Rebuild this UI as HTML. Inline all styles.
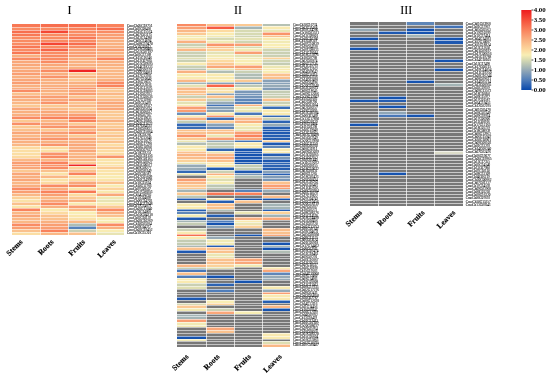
<!DOCTYPE html><html><head><meta charset="utf-8"><style>html,body{margin:0;padding:0;background:#fff;width:550px;height:377px;overflow:hidden}svg{display:block;will-change:transform}text{font-family:"Liberation Serif",serif}</style></head><body>
<svg width="550" height="377" viewBox="0 0 550 377" shape-rendering="crispEdges">
<rect width="550" height="377" fill="#fff"/>
<g><rect x="12" y="24" width="28" height="3" fill="#f87855"/><rect x="40" y="24" width="28" height="3" fill="#f76e4e"/><rect x="68" y="24" width="28" height="3" fill="#f76e4e"/><rect x="96" y="24" width="28" height="3" fill="#f9825c"/><rect x="12" y="27" width="28" height="3" fill="#f98b63"/><rect x="40" y="27" width="28" height="3" fill="#f98b63"/><rect x="68" y="27" width="28" height="3" fill="#f9825c"/><rect x="96" y="27" width="28" height="3" fill="#f76e4e"/><rect x="12" y="30" width="28" height="3" fill="#f76e4e"/><rect x="40" y="30" width="28" height="3" fill="#f44634"/><rect x="68" y="30" width="28" height="3" fill="#f98b63"/><rect x="96" y="30" width="28" height="3" fill="#f98b63"/><rect x="12" y="33" width="28" height="3" fill="#f87855"/><rect x="40" y="33" width="28" height="3" fill="#f98b63"/><rect x="68" y="33" width="28" height="3" fill="#f98b63"/><rect x="96" y="33" width="28" height="3" fill="#f99e72"/><rect x="12" y="36" width="28" height="3" fill="#f98b63"/><rect x="40" y="36" width="28" height="3" fill="#f98b63"/><rect x="68" y="36" width="28" height="3" fill="#f87855"/><rect x="96" y="36" width="28" height="3" fill="#f99e72"/><rect x="12" y="39" width="28" height="3" fill="#f98b63"/><rect x="40" y="39" width="28" height="3" fill="#f98b63"/><rect x="68" y="39" width="28" height="3" fill="#f98b63"/><rect x="96" y="39" width="28" height="3" fill="#f9b080"/><rect x="12" y="42" width="28" height="3" fill="#f98b63"/><rect x="40" y="42" width="28" height="3" fill="#f44634"/><rect x="68" y="42" width="28" height="3" fill="#f76e4e"/><rect x="96" y="42" width="28" height="3" fill="#f9b080"/><rect x="12" y="45" width="28" height="3" fill="#f87855"/><rect x="40" y="45" width="28" height="3" fill="#f98b63"/><rect x="68" y="45" width="28" height="3" fill="#f98b63"/><rect x="96" y="45" width="28" height="3" fill="#f9b080"/><rect x="12" y="48" width="28" height="3" fill="#f98b63"/><rect x="40" y="48" width="28" height="3" fill="#f76448"/><rect x="68" y="48" width="28" height="3" fill="#f99e72"/><rect x="96" y="48" width="28" height="3" fill="#f99e72"/><rect x="12" y="51" width="28" height="3" fill="#f87855"/><rect x="40" y="51" width="28" height="3" fill="#f98b63"/><rect x="68" y="51" width="28" height="3" fill="#f99e72"/><rect x="96" y="51" width="28" height="3" fill="#f9b080"/><rect x="12" y="54" width="28" height="3" fill="#f9b080"/><rect x="40" y="54" width="28" height="3" fill="#f98b63"/><rect x="68" y="54" width="28" height="3" fill="#f99e72"/><rect x="96" y="54" width="28" height="3" fill="#f9b080"/><rect x="12" y="57" width="28" height="3" fill="#f98b63"/><rect x="40" y="57" width="28" height="3" fill="#f98b63"/><rect x="68" y="57" width="28" height="3" fill="#f9b080"/><rect x="96" y="57" width="28" height="3" fill="#f9825c"/><rect x="12" y="60" width="28" height="3" fill="#f9a779"/><rect x="40" y="60" width="28" height="3" fill="#f98b63"/><rect x="68" y="60" width="28" height="3" fill="#f9b080"/><rect x="96" y="60" width="28" height="3" fill="#f9b080"/><rect x="12" y="63" width="28" height="3" fill="#f9a779"/><rect x="40" y="63" width="28" height="3" fill="#f9a779"/><rect x="68" y="63" width="28" height="3" fill="#f9b080"/><rect x="96" y="63" width="28" height="3" fill="#f9b080"/><rect x="12" y="66" width="28" height="3" fill="#f9b080"/><rect x="40" y="66" width="28" height="3" fill="#f9b080"/><rect x="68" y="66" width="28" height="3" fill="#f9b080"/><rect x="96" y="66" width="28" height="3" fill="#fab886"/><rect x="12" y="69" width="28" height="3" fill="#f9a779"/><rect x="40" y="69" width="28" height="3" fill="#f98b63"/><rect x="68" y="69" width="28" height="3" fill="#ef2624"/><rect x="96" y="69" width="28" height="3" fill="#fab886"/><rect x="12" y="72" width="28" height="3" fill="#f99e72"/><rect x="40" y="72" width="28" height="3" fill="#f9b080"/><rect x="68" y="72" width="28" height="3" fill="#fbc993"/><rect x="96" y="72" width="28" height="3" fill="#fab886"/><rect x="12" y="75" width="28" height="3" fill="#f9b080"/><rect x="40" y="75" width="28" height="3" fill="#f9946a"/><rect x="68" y="75" width="28" height="3" fill="#fab886"/><rect x="96" y="75" width="28" height="3" fill="#fab886"/><rect x="12" y="78" width="28" height="3" fill="#f9a779"/><rect x="40" y="78" width="28" height="3" fill="#f9b080"/><rect x="68" y="78" width="28" height="3" fill="#fbc993"/><rect x="96" y="78" width="28" height="3" fill="#f9b080"/><rect x="12" y="81" width="28" height="3" fill="#f99e72"/><rect x="40" y="81" width="28" height="3" fill="#f9b080"/><rect x="68" y="81" width="28" height="3" fill="#f9b080"/><rect x="96" y="81" width="28" height="3" fill="#f98b63"/><rect x="12" y="84" width="28" height="3" fill="#f9b080"/><rect x="40" y="84" width="28" height="3" fill="#f9b080"/><rect x="68" y="84" width="28" height="3" fill="#f9b080"/><rect x="96" y="84" width="28" height="3" fill="#f9825c"/><rect x="12" y="87" width="28" height="2" fill="#f9b080"/><rect x="40" y="87" width="28" height="2" fill="#f9a779"/><rect x="68" y="87" width="28" height="2" fill="#f9946a"/><rect x="96" y="87" width="28" height="2" fill="#fab886"/><rect x="12" y="89" width="28" height="3" fill="#f98b63"/><rect x="40" y="89" width="28" height="3" fill="#f9b080"/><rect x="68" y="89" width="28" height="3" fill="#f9a779"/><rect x="96" y="89" width="28" height="3" fill="#fbc993"/><rect x="12" y="92" width="28" height="3" fill="#fac18d"/><rect x="40" y="92" width="28" height="3" fill="#fab886"/><rect x="68" y="92" width="28" height="3" fill="#f99e72"/><rect x="96" y="92" width="28" height="3" fill="#fab886"/><rect x="12" y="95" width="28" height="3" fill="#f9a779"/><rect x="40" y="95" width="28" height="3" fill="#f99e72"/><rect x="68" y="95" width="28" height="3" fill="#fac18d"/><rect x="96" y="95" width="28" height="3" fill="#fbc993"/><rect x="12" y="98" width="28" height="3" fill="#f9b080"/><rect x="40" y="98" width="28" height="3" fill="#f9a779"/><rect x="68" y="98" width="28" height="3" fill="#f99e72"/><rect x="96" y="98" width="28" height="3" fill="#fab886"/><rect x="12" y="101" width="28" height="3" fill="#fab886"/><rect x="40" y="101" width="28" height="3" fill="#f9946a"/><rect x="68" y="101" width="28" height="3" fill="#fac18d"/><rect x="96" y="101" width="28" height="3" fill="#f9a779"/><rect x="12" y="104" width="28" height="3" fill="#fbc993"/><rect x="40" y="104" width="28" height="3" fill="#fbc993"/><rect x="68" y="104" width="28" height="3" fill="#fab886"/><rect x="96" y="104" width="28" height="3" fill="#f9b080"/><rect x="12" y="107" width="28" height="3" fill="#f9a779"/><rect x="40" y="107" width="28" height="3" fill="#fab886"/><rect x="68" y="107" width="28" height="3" fill="#fbc993"/><rect x="96" y="107" width="28" height="3" fill="#f9a779"/><rect x="12" y="110" width="28" height="3" fill="#f9b080"/><rect x="40" y="110" width="28" height="3" fill="#f9a779"/><rect x="68" y="110" width="28" height="3" fill="#fab886"/><rect x="96" y="110" width="28" height="3" fill="#fbc993"/><rect x="12" y="113" width="28" height="3" fill="#f9b080"/><rect x="40" y="113" width="28" height="3" fill="#f9a779"/><rect x="68" y="113" width="28" height="3" fill="#f99e72"/><rect x="96" y="113" width="28" height="3" fill="#fbc993"/><rect x="12" y="116" width="28" height="3" fill="#f98b63"/><rect x="40" y="116" width="28" height="3" fill="#f9825c"/><rect x="68" y="116" width="28" height="3" fill="#f9825c"/><rect x="96" y="116" width="28" height="3" fill="#fbc993"/><rect x="12" y="119" width="28" height="3" fill="#fbc993"/><rect x="40" y="119" width="28" height="3" fill="#fab886"/><rect x="68" y="119" width="28" height="3" fill="#f9825c"/><rect x="96" y="119" width="28" height="3" fill="#f9b080"/><rect x="12" y="122" width="28" height="3" fill="#f99067"/><rect x="40" y="122" width="28" height="3" fill="#f9a779"/><rect x="68" y="122" width="28" height="3" fill="#fbc993"/><rect x="96" y="122" width="28" height="3" fill="#fbc993"/><rect x="12" y="125" width="28" height="3" fill="#fbc993"/><rect x="40" y="125" width="28" height="3" fill="#f9946a"/><rect x="68" y="125" width="28" height="3" fill="#f99e72"/><rect x="96" y="125" width="28" height="3" fill="#fbc993"/><rect x="12" y="128" width="28" height="3" fill="#fac18d"/><rect x="40" y="128" width="28" height="3" fill="#fbc993"/><rect x="68" y="128" width="28" height="3" fill="#fab886"/><rect x="96" y="128" width="28" height="3" fill="#fab886"/><rect x="12" y="131" width="28" height="3" fill="#f9a779"/><rect x="40" y="131" width="28" height="3" fill="#f99e72"/><rect x="68" y="131" width="28" height="3" fill="#f98b63"/><rect x="96" y="131" width="28" height="3" fill="#fbd29a"/><rect x="12" y="134" width="28" height="3" fill="#fab886"/><rect x="40" y="134" width="28" height="3" fill="#f9b080"/><rect x="68" y="134" width="28" height="3" fill="#fbc993"/><rect x="96" y="134" width="28" height="3" fill="#fac18d"/><rect x="12" y="137" width="28" height="3" fill="#f9a779"/><rect x="40" y="137" width="28" height="3" fill="#f9946a"/><rect x="68" y="137" width="28" height="3" fill="#f9a779"/><rect x="96" y="137" width="28" height="3" fill="#fbd29a"/><rect x="12" y="140" width="28" height="3" fill="#f9b080"/><rect x="40" y="140" width="28" height="3" fill="#f9b080"/><rect x="68" y="140" width="28" height="3" fill="#f9b080"/><rect x="96" y="140" width="28" height="3" fill="#fac18d"/><rect x="12" y="143" width="28" height="3" fill="#fab886"/><rect x="40" y="143" width="28" height="3" fill="#f9946a"/><rect x="68" y="143" width="28" height="3" fill="#f9a779"/><rect x="96" y="143" width="28" height="3" fill="#fcdca2"/><rect x="12" y="146" width="28" height="3" fill="#fcdaa0"/><rect x="40" y="146" width="28" height="3" fill="#fcdaa0"/><rect x="68" y="146" width="28" height="3" fill="#f9b080"/><rect x="96" y="146" width="28" height="3" fill="#fbcb94"/><rect x="12" y="149" width="28" height="3" fill="#fbdea4"/><rect x="40" y="149" width="28" height="3" fill="#fae2a8"/><rect x="68" y="149" width="28" height="3" fill="#f9a779"/><rect x="96" y="149" width="28" height="3" fill="#fcdca2"/><rect x="12" y="152" width="28" height="3" fill="#fbdea4"/><rect x="40" y="152" width="28" height="3" fill="#f9946a"/><rect x="68" y="152" width="28" height="3" fill="#fab886"/><rect x="96" y="152" width="28" height="3" fill="#fcdca2"/><rect x="12" y="155" width="28" height="3" fill="#fcdaa0"/><rect x="40" y="155" width="28" height="3" fill="#f98b63"/><rect x="68" y="155" width="28" height="3" fill="#f9b080"/><rect x="96" y="155" width="28" height="3" fill="#f9946a"/><rect x="12" y="158" width="28" height="3" fill="#fab886"/><rect x="40" y="158" width="28" height="3" fill="#fab886"/><rect x="68" y="158" width="28" height="3" fill="#fab886"/><rect x="96" y="158" width="28" height="3" fill="#fae4aa"/><rect x="12" y="161" width="28" height="3" fill="#f99e72"/><rect x="40" y="161" width="28" height="3" fill="#f9825c"/><rect x="68" y="161" width="28" height="3" fill="#fbc993"/><rect x="96" y="161" width="28" height="3" fill="#fae4aa"/><rect x="12" y="164" width="28" height="2" fill="#f99e72"/><rect x="40" y="164" width="28" height="2" fill="#f9946a"/><rect x="68" y="164" width="28" height="2" fill="#ef2624"/><rect x="96" y="164" width="28" height="2" fill="#fae4aa"/><rect x="12" y="166" width="28" height="3" fill="#f9a779"/><rect x="40" y="166" width="28" height="3" fill="#f98b63"/><rect x="68" y="166" width="28" height="3" fill="#fbd29a"/><rect x="96" y="166" width="28" height="3" fill="#fbcb94"/><rect x="12" y="169" width="28" height="3" fill="#fbc993"/><rect x="40" y="169" width="28" height="3" fill="#fac18d"/><rect x="68" y="169" width="28" height="3" fill="#fac18d"/><rect x="96" y="169" width="28" height="3" fill="#fae4aa"/><rect x="12" y="172" width="28" height="3" fill="#f9a779"/><rect x="40" y="172" width="28" height="3" fill="#fae2a8"/><rect x="68" y="172" width="28" height="3" fill="#f9825c"/><rect x="96" y="172" width="28" height="3" fill="#fae4aa"/><rect x="12" y="175" width="28" height="3" fill="#f9b080"/><rect x="40" y="175" width="28" height="3" fill="#fab886"/><rect x="68" y="175" width="28" height="3" fill="#fcdaa0"/><rect x="96" y="175" width="28" height="3" fill="#f8ecb2"/><rect x="12" y="178" width="28" height="3" fill="#f9a779"/><rect x="40" y="178" width="28" height="3" fill="#fae2a8"/><rect x="68" y="178" width="28" height="3" fill="#fcdaa0"/><rect x="96" y="178" width="28" height="3" fill="#fae4aa"/><rect x="12" y="181" width="28" height="3" fill="#fab886"/><rect x="40" y="181" width="28" height="3" fill="#fcdaa0"/><rect x="68" y="181" width="28" height="3" fill="#f9a779"/><rect x="96" y="181" width="28" height="3" fill="#fac28e"/><rect x="12" y="184" width="28" height="3" fill="#f9b080"/><rect x="40" y="184" width="28" height="3" fill="#f98b63"/><rect x="68" y="184" width="28" height="3" fill="#f98b63"/><rect x="96" y="184" width="28" height="3" fill="#f8ecb2"/><rect x="12" y="187" width="28" height="3" fill="#f98b63"/><rect x="40" y="187" width="28" height="3" fill="#f9b080"/><rect x="68" y="187" width="28" height="3" fill="#fae2a8"/><rect x="96" y="187" width="28" height="3" fill="#fcd39b"/><rect x="12" y="190" width="28" height="3" fill="#f99e72"/><rect x="40" y="190" width="28" height="3" fill="#f9825c"/><rect x="68" y="190" width="28" height="3" fill="#f87855"/><rect x="96" y="190" width="28" height="3" fill="#f9e8ae"/><rect x="12" y="193" width="28" height="3" fill="#fab886"/><rect x="40" y="193" width="28" height="3" fill="#f99e72"/><rect x="68" y="193" width="28" height="3" fill="#fcdaa0"/><rect x="96" y="193" width="28" height="3" fill="#f9a779"/><rect x="12" y="196" width="28" height="3" fill="#fbd29a"/><rect x="40" y="196" width="28" height="3" fill="#fab886"/><rect x="68" y="196" width="28" height="3" fill="#fbc993"/><rect x="96" y="196" width="28" height="3" fill="#efe8b3"/><rect x="12" y="199" width="28" height="3" fill="#fae2a8"/><rect x="40" y="199" width="28" height="3" fill="#f9a779"/><rect x="68" y="199" width="28" height="3" fill="#f9b080"/><rect x="96" y="199" width="28" height="3" fill="#e8e4b3"/><rect x="12" y="202" width="28" height="3" fill="#fac18d"/><rect x="40" y="202" width="28" height="3" fill="#f98b63"/><rect x="68" y="202" width="28" height="3" fill="#f9eab0"/><rect x="96" y="202" width="28" height="3" fill="#f8ecb2"/><rect x="12" y="205" width="28" height="3" fill="#fae6ac"/><rect x="40" y="205" width="28" height="3" fill="#f9b080"/><rect x="68" y="205" width="28" height="3" fill="#f99e72"/><rect x="96" y="205" width="28" height="3" fill="#fbcb94"/><rect x="12" y="208" width="28" height="3" fill="#f9825c"/><rect x="40" y="208" width="28" height="3" fill="#f9eab0"/><rect x="68" y="208" width="28" height="3" fill="#fab886"/><rect x="96" y="208" width="28" height="3" fill="#f98b63"/><rect x="12" y="211" width="28" height="3" fill="#fab886"/><rect x="40" y="211" width="28" height="3" fill="#fcdaa0"/><rect x="68" y="211" width="28" height="3" fill="#f8eeb4"/><rect x="96" y="211" width="28" height="3" fill="#f9b080"/><rect x="12" y="214" width="28" height="3" fill="#f9a779"/><rect x="40" y="214" width="28" height="3" fill="#fac18d"/><rect x="68" y="214" width="28" height="3" fill="#fae6ac"/><rect x="96" y="214" width="28" height="3" fill="#fac28e"/><rect x="12" y="217" width="28" height="3" fill="#fab886"/><rect x="40" y="217" width="28" height="3" fill="#fac18d"/><rect x="68" y="217" width="28" height="3" fill="#fae2a8"/><rect x="96" y="217" width="28" height="3" fill="#f8ecb2"/><rect x="12" y="220" width="28" height="3" fill="#fab886"/><rect x="40" y="220" width="28" height="3" fill="#f9b080"/><rect x="68" y="220" width="28" height="3" fill="#fab886"/><rect x="96" y="220" width="28" height="3" fill="#f8ecb2"/><rect x="12" y="223" width="28" height="3" fill="#f98b63"/><rect x="40" y="223" width="28" height="3" fill="#f99e72"/><rect x="68" y="223" width="28" height="3" fill="#b0bdb4"/><rect x="96" y="223" width="28" height="3" fill="#f98b63"/><rect x="12" y="226" width="28" height="3" fill="#f99e72"/><rect x="40" y="226" width="28" height="3" fill="#f99e72"/><rect x="68" y="226" width="28" height="3" fill="#5782b9"/><rect x="96" y="226" width="28" height="3" fill="#f9b080"/><rect x="12" y="229" width="28" height="3" fill="#fac18d"/><rect x="40" y="229" width="28" height="3" fill="#f9825c"/><rect x="68" y="229" width="28" height="3" fill="#cad0b3"/><rect x="96" y="229" width="28" height="3" fill="#f8ecb2"/><rect x="12" y="232" width="28" height="3" fill="#fbdea4"/><rect x="40" y="232" width="28" height="3" fill="#fab886"/><rect x="68" y="232" width="28" height="3" fill="#fac18d"/><rect x="96" y="232" width="28" height="3" fill="#e8e4b3"/>
<path d="M12 27h112v1h-112zM12 30h112v1h-112zM12 33h112v1h-112zM12 36h112v1h-112zM12 39h112v1h-112zM12 42h112v1h-112zM12 45h112v1h-112zM12 48h112v1h-112zM12 51h112v1h-112zM12 54h112v1h-112zM12 57h112v1h-112zM12 60h112v1h-112zM12 63h112v1h-112zM12 66h112v1h-112zM12 69h112v1h-112zM12 72h112v1h-112zM12 75h112v1h-112zM12 78h112v1h-112zM12 81h112v1h-112zM12 84h112v1h-112zM12 87h112v1h-112zM12 89h112v1h-112zM12 92h112v1h-112zM12 95h112v1h-112zM12 98h112v1h-112zM12 101h112v1h-112zM12 104h112v1h-112zM12 107h112v1h-112zM12 110h112v1h-112zM12 113h112v1h-112zM12 116h112v1h-112zM12 119h112v1h-112zM12 122h112v1h-112zM12 125h112v1h-112zM12 128h112v1h-112zM12 131h112v1h-112zM12 134h112v1h-112zM12 137h112v1h-112zM12 140h112v1h-112zM12 143h112v1h-112zM12 146h112v1h-112zM12 149h112v1h-112zM12 152h112v1h-112zM12 155h112v1h-112zM12 158h112v1h-112zM12 161h112v1h-112zM12 164h112v1h-112zM12 166h112v1h-112zM12 169h112v1h-112zM12 172h112v1h-112zM12 175h112v1h-112zM12 178h112v1h-112zM12 181h112v1h-112zM12 184h112v1h-112zM12 187h112v1h-112zM12 190h112v1h-112zM12 193h112v1h-112zM12 196h112v1h-112zM12 199h112v1h-112zM12 202h112v1h-112zM12 205h112v1h-112zM12 208h112v1h-112zM12 211h112v1h-112zM12 214h112v1h-112zM12 217h112v1h-112zM12 220h112v1h-112zM12 223h112v1h-112zM12 226h112v1h-112zM12 229h112v1h-112zM12 232h112v1h-112z" fill="#fff" opacity="0.5"/>
<path d="M40 24v211h1v-211zM68 24v211h1v-211zM96 24v211h1v-211z" fill="#fff" opacity="0.7"/></g>
<g font-size="3.5" fill="#000" stroke="#000" stroke-width="0.06"><text x="127.00" y="26.78" textLength="25.5" lengthAdjust="spacingAndGlyphs">CmoCh05G18751</text><text x="127.00" y="29.74" textLength="24.0" lengthAdjust="spacingAndGlyphs">CmoCh03G08458</text><text x="127.00" y="32.70" textLength="25.1" lengthAdjust="spacingAndGlyphs">CmoCh15G15574</text><text x="127.00" y="35.67" textLength="24.8" lengthAdjust="spacingAndGlyphs">CmoCh07G03175</text><text x="127.00" y="38.63" textLength="25.0" lengthAdjust="spacingAndGlyphs">CmoCh13G14280</text><text x="127.00" y="41.59" textLength="24.3" lengthAdjust="spacingAndGlyphs">CmoCh01G14694</text><text x="127.00" y="44.55" textLength="25.7" lengthAdjust="spacingAndGlyphs">CmoCh08G19470</text><text x="127.00" y="47.51" textLength="23.8" lengthAdjust="spacingAndGlyphs">CmoCh11G01102</text><text x="127.00" y="50.48" textLength="25.7" lengthAdjust="spacingAndGlyphs">CmoCh18G00401</text><text x="127.00" y="53.44" textLength="25.7" lengthAdjust="spacingAndGlyphs">CmoCh13G07197</text><text x="127.00" y="56.40" textLength="24.2" lengthAdjust="spacingAndGlyphs">CmoCh01G17389</text><text x="127.00" y="59.36" textLength="24.9" lengthAdjust="spacingAndGlyphs">CmoCh15G16346</text><text x="127.00" y="62.32" textLength="25.2" lengthAdjust="spacingAndGlyphs">CmoCh12G07665</text><text x="127.00" y="65.29" textLength="25.7" lengthAdjust="spacingAndGlyphs">CmoCh15G09595</text><text x="127.00" y="68.25" textLength="25.6" lengthAdjust="spacingAndGlyphs">CmoCh14G18333</text><text x="127.00" y="71.21" textLength="25.1" lengthAdjust="spacingAndGlyphs">CmoCh04G06191</text><text x="127.00" y="74.17" textLength="25.3" lengthAdjust="spacingAndGlyphs">CmoCh10G04061</text><text x="127.00" y="77.13" textLength="24.8" lengthAdjust="spacingAndGlyphs">CmoCh17G13931</text><text x="127.00" y="80.10" textLength="24.4" lengthAdjust="spacingAndGlyphs">CmoCh07G10040</text><text x="127.00" y="83.06" textLength="24.6" lengthAdjust="spacingAndGlyphs">CmoCh16G16657</text><text x="127.00" y="86.02" textLength="24.3" lengthAdjust="spacingAndGlyphs">CmoCh02G15836</text><text x="127.00" y="88.98" textLength="25.1" lengthAdjust="spacingAndGlyphs">CmoCh13G13676</text><text x="127.00" y="91.94" textLength="25.6" lengthAdjust="spacingAndGlyphs">CmoCh12G18083</text><text x="127.00" y="94.91" textLength="24.7" lengthAdjust="spacingAndGlyphs">CmoCh12G02933</text><text x="127.00" y="97.87" textLength="25.4" lengthAdjust="spacingAndGlyphs">CmoCh17G03636</text><text x="127.00" y="100.83" textLength="24.5" lengthAdjust="spacingAndGlyphs">CmoCh17G12986</text><text x="127.00" y="103.79" textLength="23.9" lengthAdjust="spacingAndGlyphs">CmoCh01G15478</text><text x="127.00" y="106.75" textLength="25.0" lengthAdjust="spacingAndGlyphs">CmoCh20G19537</text><text x="127.00" y="109.72" textLength="24.8" lengthAdjust="spacingAndGlyphs">CmoCh06G05624</text><text x="127.00" y="112.68" textLength="24.9" lengthAdjust="spacingAndGlyphs">CmoCh01G06637</text><text x="127.00" y="115.64" textLength="24.6" lengthAdjust="spacingAndGlyphs">CmoCh18G07707</text><text x="127.00" y="118.60" textLength="24.5" lengthAdjust="spacingAndGlyphs">CmoCh12G19033</text><text x="127.00" y="121.56" textLength="25.0" lengthAdjust="spacingAndGlyphs">CmoCh09G18056</text><text x="127.00" y="124.53" textLength="25.4" lengthAdjust="spacingAndGlyphs">CmoCh01G12672</text><text x="127.00" y="127.49" textLength="24.8" lengthAdjust="spacingAndGlyphs">CmoCh17G04335</text><text x="127.00" y="130.45" textLength="24.7" lengthAdjust="spacingAndGlyphs">CmoCh18G06833</text><text x="127.00" y="133.41" textLength="25.5" lengthAdjust="spacingAndGlyphs">CmoCh02G15864</text><text x="127.00" y="136.37" textLength="24.2" lengthAdjust="spacingAndGlyphs">CmoCh19G18266</text><text x="127.00" y="139.34" textLength="24.8" lengthAdjust="spacingAndGlyphs">CmoCh17G13646</text><text x="127.00" y="142.30" textLength="24.5" lengthAdjust="spacingAndGlyphs">CmoCh12G13679</text><text x="127.00" y="145.26" textLength="25.0" lengthAdjust="spacingAndGlyphs">CmoCh18G17798</text><text x="127.00" y="148.22" textLength="24.7" lengthAdjust="spacingAndGlyphs">CmoCh20G10950</text><text x="127.00" y="151.18" textLength="25.1" lengthAdjust="spacingAndGlyphs">CmoCh01G07623</text><text x="127.00" y="154.15" textLength="24.2" lengthAdjust="spacingAndGlyphs">CmoCh18G19251</text><text x="127.00" y="157.11" textLength="25.4" lengthAdjust="spacingAndGlyphs">CmoCh03G18156</text><text x="127.00" y="160.07" textLength="25.5" lengthAdjust="spacingAndGlyphs">CmoCh09G01163</text><text x="127.00" y="163.03" textLength="25.5" lengthAdjust="spacingAndGlyphs">CmoCh03G02827</text><text x="127.00" y="165.99" textLength="25.3" lengthAdjust="spacingAndGlyphs">CmoCh15G00577</text><text x="127.00" y="168.96" textLength="24.3" lengthAdjust="spacingAndGlyphs">CmoCh09G08277</text><text x="127.00" y="171.92" textLength="24.5" lengthAdjust="spacingAndGlyphs">CmoCh20G06149</text><text x="127.00" y="174.88" textLength="24.1" lengthAdjust="spacingAndGlyphs">CmoCh03G05587</text><text x="127.00" y="177.84" textLength="25.1" lengthAdjust="spacingAndGlyphs">CmoCh17G05609</text><text x="127.00" y="180.80" textLength="25.2" lengthAdjust="spacingAndGlyphs">CmoCh10G14999</text><text x="127.00" y="183.77" textLength="24.0" lengthAdjust="spacingAndGlyphs">CmoCh16G15624</text><text x="127.00" y="186.73" textLength="24.5" lengthAdjust="spacingAndGlyphs">CmoCh10G12766</text><text x="127.00" y="189.69" textLength="24.0" lengthAdjust="spacingAndGlyphs">CmoCh07G08567</text><text x="127.00" y="192.65" textLength="25.7" lengthAdjust="spacingAndGlyphs">CmoCh17G06951</text><text x="127.00" y="195.61" textLength="24.3" lengthAdjust="spacingAndGlyphs">CmoCh14G00782</text><text x="127.00" y="198.58" textLength="23.9" lengthAdjust="spacingAndGlyphs">CmoCh13G04899</text><text x="127.00" y="201.54" textLength="25.2" lengthAdjust="spacingAndGlyphs">CmoCh06G14703</text><text x="127.00" y="204.50" textLength="25.5" lengthAdjust="spacingAndGlyphs">CmoCh14G17948</text><text x="127.00" y="207.46" textLength="24.2" lengthAdjust="spacingAndGlyphs">CmoCh17G14873</text><text x="127.00" y="210.42" textLength="25.1" lengthAdjust="spacingAndGlyphs">CmoCh01G13040</text><text x="127.00" y="213.39" textLength="23.9" lengthAdjust="spacingAndGlyphs">CmoCh11G14068</text><text x="127.00" y="216.35" textLength="25.7" lengthAdjust="spacingAndGlyphs">CmoCh10G04218</text><text x="127.00" y="219.31" textLength="23.9" lengthAdjust="spacingAndGlyphs">CmoCh02G10139</text><text x="127.00" y="222.27" textLength="25.6" lengthAdjust="spacingAndGlyphs">CmoCh03G10269</text><text x="127.00" y="225.23" textLength="24.6" lengthAdjust="spacingAndGlyphs">CmoCh10G05284</text><text x="127.00" y="228.20" textLength="23.8" lengthAdjust="spacingAndGlyphs">CmoCh09G04372</text><text x="127.00" y="231.16" textLength="25.4" lengthAdjust="spacingAndGlyphs">CmoCh02G19452</text><text x="127.00" y="234.12" textLength="24.1" lengthAdjust="spacingAndGlyphs">CmoCh19G15201</text></g>
<text x="69.6" y="14.0" font-size="12" text-anchor="middle" fill="#000" stroke="#000" stroke-width="0.08">I</text>
<text transform="translate(23.10,242.30) rotate(-45)" text-anchor="end" font-size="7.7" font-weight="bold" fill="#000" stroke="#000" stroke-width="0.12">Stems</text>
<text transform="translate(54.20,242.30) rotate(-45)" text-anchor="end" font-size="7.7" font-weight="bold" fill="#000" stroke="#000" stroke-width="0.12">Roots</text>
<text transform="translate(85.60,242.30) rotate(-45)" text-anchor="end" font-size="7.7" font-weight="bold" fill="#000" stroke="#000" stroke-width="0.12">Fruits</text>
<text transform="translate(116.40,242.30) rotate(-45)" text-anchor="end" font-size="7.7" font-weight="bold" fill="#000" stroke="#000" stroke-width="0.12">Leaves</text>
<g><rect x="177" y="24" width="29" height="2" fill="#f98b63"/><rect x="206" y="24" width="28" height="2" fill="#fac18d"/><rect x="234" y="24" width="28" height="2" fill="#fbc993"/><rect x="262" y="24" width="28" height="2" fill="#b6c2b4"/><rect x="177" y="26" width="29" height="3" fill="#f99e72"/><rect x="206" y="26" width="28" height="3" fill="#f65a41"/><rect x="234" y="26" width="28" height="3" fill="#a3b4b5"/><rect x="262" y="26" width="28" height="3" fill="#f9eab0"/><rect x="177" y="29" width="29" height="3" fill="#fab886"/><rect x="206" y="29" width="28" height="3" fill="#fcdaa0"/><rect x="234" y="29" width="28" height="3" fill="#d7dab2"/><rect x="262" y="29" width="28" height="3" fill="#ebe6b3"/><rect x="177" y="32" width="29" height="3" fill="#fbc993"/><rect x="206" y="32" width="28" height="3" fill="#f9eab0"/><rect x="234" y="32" width="28" height="3" fill="#d7dab2"/><rect x="262" y="32" width="28" height="3" fill="#f9946a"/><rect x="177" y="35" width="29" height="2" fill="#f1eab4"/><rect x="206" y="35" width="28" height="2" fill="#f1eab4"/><rect x="234" y="35" width="28" height="2" fill="#d0d5b2"/><rect x="262" y="35" width="28" height="2" fill="#fac18d"/><rect x="177" y="37" width="29" height="3" fill="#f9eab0"/><rect x="206" y="37" width="28" height="3" fill="#d7dab2"/><rect x="234" y="37" width="28" height="3" fill="#e4e2b3"/><rect x="262" y="37" width="28" height="3" fill="#f9eab0"/><rect x="177" y="40" width="29" height="3" fill="#f9b080"/><rect x="206" y="40" width="28" height="3" fill="#f1eab4"/><rect x="234" y="40" width="28" height="3" fill="#d0d5b2"/><rect x="262" y="40" width="28" height="3" fill="#f1eab4"/><rect x="177" y="43" width="29" height="3" fill="#cad0b3"/><rect x="206" y="43" width="28" height="3" fill="#f9946a"/><rect x="234" y="43" width="28" height="3" fill="#f99e72"/><rect x="262" y="43" width="28" height="3" fill="#f8eeb4"/><rect x="177" y="46" width="29" height="2" fill="#d7dab2"/><rect x="206" y="46" width="28" height="2" fill="#fac18d"/><rect x="234" y="46" width="28" height="2" fill="#d7dab2"/><rect x="262" y="46" width="28" height="2" fill="#f9eab0"/><rect x="177" y="48" width="29" height="3" fill="#fab886"/><rect x="206" y="48" width="28" height="3" fill="#fbd29a"/><rect x="234" y="48" width="28" height="3" fill="#f1eab4"/><rect x="262" y="48" width="28" height="3" fill="#d0d5b2"/><rect x="177" y="51" width="29" height="3" fill="#cad0b3"/><rect x="206" y="51" width="28" height="3" fill="#e4e2b3"/><rect x="234" y="51" width="28" height="3" fill="#f99e72"/><rect x="262" y="51" width="28" height="3" fill="#cad0b3"/><rect x="177" y="54" width="29" height="3" fill="#cad0b3"/><rect x="206" y="54" width="28" height="3" fill="#f1eab4"/><rect x="234" y="54" width="28" height="3" fill="#e4e2b3"/><rect x="262" y="54" width="28" height="3" fill="#cad0b3"/><rect x="177" y="57" width="29" height="2" fill="#dedeb2"/><rect x="206" y="57" width="28" height="2" fill="#f9eab0"/><rect x="234" y="57" width="28" height="2" fill="#f1eab4"/><rect x="262" y="57" width="28" height="2" fill="#fbd29a"/><rect x="177" y="59" width="29" height="3" fill="#cad0b3"/><rect x="206" y="59" width="28" height="3" fill="#fcdaa0"/><rect x="234" y="59" width="28" height="3" fill="#f8eeb4"/><rect x="262" y="59" width="28" height="3" fill="#d0d5b2"/><rect x="177" y="62" width="29" height="3" fill="#f9eab0"/><rect x="206" y="62" width="28" height="3" fill="#fbc993"/><rect x="234" y="62" width="28" height="3" fill="#f9eab0"/><rect x="262" y="62" width="28" height="3" fill="#c4ccb3"/><rect x="177" y="65" width="29" height="3" fill="#cad0b3"/><rect x="206" y="65" width="28" height="3" fill="#f9a779"/><rect x="234" y="65" width="28" height="3" fill="#f99e72"/><rect x="262" y="65" width="28" height="3" fill="#ebe6b3"/><rect x="177" y="68" width="29" height="2" fill="#b6c2b4"/><rect x="206" y="68" width="28" height="2" fill="#ebe6b3"/><rect x="234" y="68" width="28" height="2" fill="#fac18d"/><rect x="262" y="68" width="28" height="2" fill="#f9eab0"/><rect x="177" y="70" width="29" height="3" fill="#f9b080"/><rect x="206" y="70" width="28" height="3" fill="#b0bdb4"/><rect x="234" y="70" width="28" height="3" fill="#cad0b3"/><rect x="262" y="70" width="28" height="3" fill="#f8eeb4"/><rect x="177" y="73" width="29" height="3" fill="#f9eab0"/><rect x="206" y="73" width="28" height="3" fill="#f9eab0"/><rect x="234" y="73" width="28" height="3" fill="#b0bdb4"/><rect x="262" y="73" width="28" height="3" fill="#fac18d"/><rect x="177" y="76" width="29" height="3" fill="#f9eab0"/><rect x="206" y="76" width="28" height="3" fill="#f9eab0"/><rect x="234" y="76" width="28" height="3" fill="#b0bdb4"/><rect x="262" y="76" width="28" height="3" fill="#fac18d"/><rect x="177" y="79" width="29" height="3" fill="#fab886"/><rect x="206" y="79" width="28" height="3" fill="#f9eab0"/><rect x="234" y="79" width="28" height="3" fill="#fbc993"/><rect x="262" y="79" width="28" height="3" fill="#88a1b7"/><rect x="177" y="82" width="29" height="2" fill="#a3b4b5"/><rect x="206" y="82" width="28" height="2" fill="#88a1b7"/><rect x="234" y="82" width="28" height="2" fill="#819cb7"/><rect x="262" y="82" width="28" height="2" fill="#88a1b7"/><rect x="177" y="84" width="29" height="3" fill="#e4e2b3"/><rect x="206" y="84" width="28" height="3" fill="#f76448"/><rect x="234" y="84" width="28" height="3" fill="#bdc7b4"/><rect x="262" y="84" width="28" height="3" fill="#96aab6"/><rect x="177" y="87" width="29" height="3" fill="#fab886"/><rect x="206" y="87" width="28" height="3" fill="#fae2a8"/><rect x="234" y="87" width="28" height="3" fill="#f8eeb4"/><rect x="262" y="87" width="28" height="3" fill="#819cb7"/><rect x="177" y="90" width="29" height="3" fill="#fac18d"/><rect x="206" y="90" width="28" height="3" fill="#fae2a8"/><rect x="234" y="90" width="28" height="3" fill="#7a98b7"/><rect x="262" y="90" width="28" height="3" fill="#c4ccb3"/><rect x="177" y="93" width="29" height="2" fill="#fac18d"/><rect x="206" y="93" width="28" height="2" fill="#88a1b7"/><rect x="234" y="93" width="28" height="2" fill="#7394b8"/><rect x="262" y="93" width="28" height="2" fill="#c4ccb3"/><rect x="177" y="95" width="29" height="3" fill="#cad0b3"/><rect x="206" y="95" width="28" height="3" fill="#fac18d"/><rect x="234" y="95" width="28" height="3" fill="#7394b8"/><rect x="262" y="95" width="28" height="3" fill="#cad0b3"/><rect x="177" y="98" width="29" height="3" fill="#fbc993"/><rect x="206" y="98" width="28" height="3" fill="#cad0b3"/><rect x="234" y="98" width="28" height="3" fill="#5e86b8"/><rect x="262" y="98" width="28" height="3" fill="#fac18d"/><rect x="177" y="101" width="29" height="3" fill="#e4e2b3"/><rect x="206" y="101" width="28" height="3" fill="#96aab6"/><rect x="234" y="101" width="28" height="3" fill="#5782b9"/><rect x="262" y="101" width="28" height="3" fill="#cad0b3"/><rect x="177" y="104" width="29" height="2" fill="#f8eeb4"/><rect x="206" y="104" width="28" height="2" fill="#4272b6"/><rect x="234" y="104" width="28" height="2" fill="#f9b080"/><rect x="262" y="104" width="28" height="2" fill="#dedeb2"/><rect x="177" y="106" width="29" height="3" fill="#f99e72"/><rect x="206" y="106" width="28" height="3" fill="#88a1b7"/><rect x="234" y="106" width="28" height="3" fill="#ebe6b3"/><rect x="262" y="106" width="28" height="3" fill="#3a6db5"/><rect x="177" y="109" width="29" height="3" fill="#f99e72"/><rect x="206" y="109" width="28" height="3" fill="#88a1b7"/><rect x="234" y="109" width="28" height="3" fill="#ebe6b3"/><rect x="262" y="109" width="28" height="3" fill="#f9eab0"/><rect x="177" y="112" width="29" height="3" fill="#6c8fb8"/><rect x="206" y="112" width="28" height="3" fill="#f9eab0"/><rect x="234" y="112" width="28" height="3" fill="#4978b8"/><rect x="262" y="112" width="28" height="3" fill="#f9eab0"/><rect x="177" y="115" width="29" height="2" fill="#f8eeb4"/><rect x="206" y="115" width="28" height="2" fill="#f9946a"/><rect x="234" y="115" width="28" height="2" fill="#ebe6b3"/><rect x="262" y="115" width="28" height="2" fill="#3368b4"/><rect x="177" y="117" width="29" height="3" fill="#f9b080"/><rect x="206" y="117" width="28" height="3" fill="#3a6db5"/><rect x="234" y="117" width="28" height="3" fill="#fab886"/><rect x="262" y="117" width="28" height="3" fill="#cad0b3"/><rect x="177" y="120" width="29" height="3" fill="#c4ccb3"/><rect x="206" y="120" width="28" height="3" fill="#fbc993"/><rect x="234" y="120" width="28" height="3" fill="#f9b080"/><rect x="262" y="120" width="28" height="3" fill="#2c62b2"/><rect x="177" y="123" width="29" height="3" fill="#3368b4"/><rect x="206" y="123" width="28" height="3" fill="#88a1b7"/><rect x="234" y="123" width="28" height="3" fill="#f9eab0"/><rect x="262" y="123" width="28" height="3" fill="#96aab6"/><rect x="177" y="126" width="29" height="3" fill="#3a6db5"/><rect x="206" y="126" width="28" height="3" fill="#5e86b8"/><rect x="234" y="126" width="28" height="3" fill="#ebe6b3"/><rect x="262" y="126" width="28" height="3" fill="#255db1"/><rect x="177" y="129" width="29" height="2" fill="#fac18d"/><rect x="206" y="129" width="28" height="2" fill="#fac18d"/><rect x="234" y="129" width="28" height="2" fill="#ebe6b3"/><rect x="262" y="129" width="28" height="2" fill="#1e58b0"/><rect x="177" y="131" width="29" height="3" fill="#fac18d"/><rect x="206" y="131" width="28" height="3" fill="#fac18d"/><rect x="234" y="131" width="28" height="3" fill="#f99e72"/><rect x="262" y="131" width="28" height="3" fill="#1e58b0"/><rect x="177" y="134" width="29" height="3" fill="#f9946a"/><rect x="206" y="134" width="28" height="3" fill="#ebe6b3"/><rect x="234" y="134" width="28" height="3" fill="#f9825c"/><rect x="262" y="134" width="28" height="3" fill="#255db1"/><rect x="177" y="137" width="29" height="3" fill="#fbc993"/><rect x="206" y="137" width="28" height="3" fill="#f99e72"/><rect x="234" y="137" width="28" height="3" fill="#f9a779"/><rect x="262" y="137" width="28" height="3" fill="#255db1"/><rect x="177" y="140" width="29" height="2" fill="#ebe6b3"/><rect x="206" y="140" width="28" height="2" fill="#96aab6"/><rect x="234" y="140" width="28" height="2" fill="#4272b6"/><rect x="262" y="140" width="28" height="2" fill="#fbd29a"/><rect x="177" y="142" width="29" height="3" fill="#b0bdb4"/><rect x="206" y="142" width="28" height="3" fill="#c4ccb3"/><rect x="234" y="142" width="28" height="3" fill="#f9eab0"/><rect x="262" y="142" width="28" height="3" fill="#1e58b0"/><rect x="177" y="145" width="29" height="3" fill="#f9eab0"/><rect x="206" y="145" width="28" height="3" fill="#c4ccb3"/><rect x="234" y="145" width="28" height="3" fill="#f9eab0"/><rect x="262" y="145" width="28" height="3" fill="#5e86b8"/><rect x="177" y="148" width="29" height="3" fill="#f9eab0"/><rect x="206" y="148" width="28" height="3" fill="#3368b4"/><rect x="234" y="148" width="28" height="3" fill="#1653af"/><rect x="262" y="148" width="28" height="3" fill="#f9eab0"/><rect x="177" y="151" width="29" height="2" fill="#fac18d"/><rect x="206" y="151" width="28" height="2" fill="#ebe6b3"/><rect x="234" y="151" width="28" height="2" fill="#1e58b0"/><rect x="262" y="151" width="28" height="2" fill="#f9eab0"/><rect x="177" y="153" width="29" height="3" fill="#f9b483"/><rect x="206" y="153" width="28" height="3" fill="#fab886"/><rect x="234" y="153" width="28" height="3" fill="#1653af"/><rect x="262" y="153" width="28" height="3" fill="#255db1"/><rect x="177" y="156" width="29" height="3" fill="#fabd8a"/><rect x="206" y="156" width="28" height="3" fill="#f9a779"/><rect x="234" y="156" width="28" height="3" fill="#1e58b0"/><rect x="262" y="156" width="28" height="3" fill="#7a98b7"/><rect x="177" y="159" width="29" height="3" fill="#fbd29a"/><rect x="206" y="159" width="28" height="3" fill="#fac18d"/><rect x="234" y="159" width="28" height="3" fill="#1653af"/><rect x="262" y="159" width="28" height="3" fill="#1e58b0"/><rect x="177" y="162" width="29" height="2" fill="#ebe6b3"/><rect x="206" y="162" width="28" height="2" fill="#f9eab0"/><rect x="234" y="162" width="28" height="2" fill="#1e58b0"/><rect x="262" y="162" width="28" height="2" fill="#2c62b2"/><rect x="177" y="164" width="29" height="3" fill="#96aab6"/><rect x="206" y="164" width="28" height="3" fill="#f9eab0"/><rect x="234" y="164" width="28" height="3" fill="#c4ccb3"/><rect x="262" y="164" width="28" height="3" fill="#2c62b2"/><rect x="177" y="167" width="29" height="3" fill="#96aab6"/><rect x="206" y="167" width="28" height="3" fill="#1e58b0"/><rect x="234" y="167" width="28" height="3" fill="#c4ccb3"/><rect x="262" y="167" width="28" height="3" fill="#255db1"/><rect x="177" y="170" width="29" height="3" fill="#3368b4"/><rect x="206" y="170" width="28" height="3" fill="#cad0b3"/><rect x="234" y="170" width="28" height="3" fill="#1e58b0"/><rect x="262" y="170" width="28" height="3" fill="#88a1b7"/><rect x="177" y="173" width="29" height="2" fill="#ebe6b3"/><rect x="206" y="173" width="28" height="2" fill="#f9b080"/><rect x="234" y="173" width="28" height="2" fill="#7a98b7"/><rect x="262" y="173" width="28" height="2" fill="#255db1"/><rect x="177" y="175" width="29" height="3" fill="#787878"/><rect x="206" y="175" width="28" height="3" fill="#f9eab0"/><rect x="234" y="175" width="28" height="3" fill="#b0bdb4"/><rect x="262" y="175" width="28" height="3" fill="#819cb7"/><rect x="177" y="178" width="29" height="3" fill="#f99e72"/><rect x="206" y="178" width="28" height="3" fill="#dedeb2"/><rect x="234" y="178" width="28" height="3" fill="#787878"/><rect x="262" y="178" width="28" height="3" fill="#7a98b7"/><rect x="177" y="181" width="29" height="3" fill="#fab886"/><rect x="206" y="181" width="28" height="3" fill="#f8eeb4"/><rect x="234" y="181" width="28" height="3" fill="#787878"/><rect x="262" y="181" width="28" height="3" fill="#fac18d"/><rect x="177" y="184" width="29" height="3" fill="#fbc993"/><rect x="206" y="184" width="28" height="3" fill="#bdc7b4"/><rect x="234" y="184" width="28" height="3" fill="#787878"/><rect x="262" y="184" width="28" height="3" fill="#f99e72"/><rect x="177" y="187" width="29" height="2" fill="#fbc993"/><rect x="206" y="187" width="28" height="2" fill="#bdc7b4"/><rect x="234" y="187" width="28" height="2" fill="#787878"/><rect x="262" y="187" width="28" height="2" fill="#f99e72"/><rect x="177" y="189" width="29" height="3" fill="#a3b4b5"/><rect x="206" y="189" width="28" height="3" fill="#787878"/><rect x="234" y="189" width="28" height="3" fill="#5782b9"/><rect x="262" y="189" width="28" height="3" fill="#96aab6"/><rect x="177" y="192" width="29" height="3" fill="#fbc993"/><rect x="206" y="192" width="28" height="3" fill="#f87855"/><rect x="234" y="192" width="28" height="3" fill="#f9825c"/><rect x="262" y="192" width="28" height="3" fill="#787878"/><rect x="177" y="195" width="29" height="3" fill="#bdc7b4"/><rect x="206" y="195" width="28" height="3" fill="#787878"/><rect x="234" y="195" width="28" height="3" fill="#787878"/><rect x="262" y="195" width="28" height="3" fill="#fabd8a"/><rect x="177" y="198" width="29" height="2" fill="#1e58b0"/><rect x="206" y="198" width="28" height="2" fill="#f9eab0"/><rect x="234" y="198" width="28" height="2" fill="#1653af"/><rect x="262" y="198" width="28" height="2" fill="#1653af"/><rect x="177" y="200" width="29" height="3" fill="#787878"/><rect x="206" y="200" width="28" height="3" fill="#255db1"/><rect x="234" y="200" width="28" height="3" fill="#fac18d"/><rect x="262" y="200" width="28" height="3" fill="#787878"/><rect x="177" y="203" width="29" height="3" fill="#f9eab0"/><rect x="206" y="203" width="28" height="3" fill="#fac18d"/><rect x="234" y="203" width="28" height="3" fill="#787878"/><rect x="262" y="203" width="28" height="3" fill="#a3b4b5"/><rect x="177" y="206" width="29" height="3" fill="#f9eab0"/><rect x="206" y="206" width="28" height="3" fill="#fac18d"/><rect x="234" y="206" width="28" height="3" fill="#787878"/><rect x="262" y="206" width="28" height="3" fill="#a3b4b5"/><rect x="177" y="209" width="29" height="2" fill="#255db1"/><rect x="206" y="209" width="28" height="2" fill="#b0bdb4"/><rect x="234" y="209" width="28" height="2" fill="#787878"/><rect x="262" y="209" width="28" height="2" fill="#255db1"/><rect x="177" y="211" width="29" height="3" fill="#5e86b8"/><rect x="206" y="211" width="28" height="3" fill="#787878"/><rect x="234" y="211" width="28" height="3" fill="#ebe6b3"/><rect x="262" y="211" width="28" height="3" fill="#fbd29a"/><rect x="177" y="214" width="29" height="3" fill="#f1eab4"/><rect x="206" y="214" width="28" height="3" fill="#255db1"/><rect x="234" y="214" width="28" height="3" fill="#787878"/><rect x="262" y="214" width="28" height="3" fill="#a3b4b5"/><rect x="177" y="217" width="29" height="3" fill="#1e58b0"/><rect x="206" y="217" width="28" height="3" fill="#787878"/><rect x="234" y="217" width="28" height="3" fill="#f9b080"/><rect x="262" y="217" width="28" height="3" fill="#f9a779"/><rect x="177" y="220" width="29" height="2" fill="#a3b4b5"/><rect x="206" y="220" width="28" height="2" fill="#507db9"/><rect x="234" y="220" width="28" height="2" fill="#f9eab0"/><rect x="262" y="220" width="28" height="2" fill="#787878"/><rect x="177" y="222" width="29" height="3" fill="#c4ccb3"/><rect x="206" y="222" width="28" height="3" fill="#1653af"/><rect x="234" y="222" width="28" height="3" fill="#ebe6b3"/><rect x="262" y="222" width="28" height="3" fill="#787878"/><rect x="177" y="225" width="29" height="3" fill="#787878"/><rect x="206" y="225" width="28" height="3" fill="#88a1b7"/><rect x="234" y="225" width="28" height="3" fill="#fbd29a"/><rect x="262" y="225" width="28" height="3" fill="#787878"/><rect x="177" y="228" width="29" height="3" fill="#cad0b3"/><rect x="206" y="228" width="28" height="3" fill="#787878"/><rect x="234" y="228" width="28" height="3" fill="#787878"/><rect x="262" y="228" width="28" height="3" fill="#fabd8a"/><rect x="177" y="231" width="29" height="3" fill="#f9eab0"/><rect x="206" y="231" width="28" height="3" fill="#787878"/><rect x="234" y="231" width="28" height="3" fill="#787878"/><rect x="262" y="231" width="28" height="3" fill="#fac18d"/><rect x="177" y="234" width="29" height="2" fill="#f76e4e"/><rect x="206" y="234" width="28" height="2" fill="#787878"/><rect x="234" y="234" width="28" height="2" fill="#1653af"/><rect x="262" y="234" width="28" height="2" fill="#f9a779"/><rect x="177" y="236" width="29" height="3" fill="#f9eab0"/><rect x="206" y="236" width="28" height="3" fill="#96aab6"/><rect x="234" y="236" width="28" height="3" fill="#787878"/><rect x="262" y="236" width="28" height="3" fill="#787878"/><rect x="177" y="239" width="29" height="3" fill="#c4ccb3"/><rect x="206" y="239" width="28" height="3" fill="#f1eab4"/><rect x="234" y="239" width="28" height="3" fill="#787878"/><rect x="262" y="239" width="28" height="3" fill="#787878"/><rect x="177" y="242" width="29" height="3" fill="#c4ccb3"/><rect x="206" y="242" width="28" height="3" fill="#f1eab4"/><rect x="234" y="242" width="28" height="3" fill="#787878"/><rect x="262" y="242" width="28" height="3" fill="#1653af"/><rect x="177" y="245" width="29" height="2" fill="#aab8b5"/><rect x="206" y="245" width="28" height="2" fill="#255db1"/><rect x="234" y="245" width="28" height="2" fill="#787878"/><rect x="262" y="245" width="28" height="2" fill="#a3b4b5"/><rect x="177" y="247" width="29" height="3" fill="#fac18d"/><rect x="206" y="247" width="28" height="3" fill="#fac18d"/><rect x="234" y="247" width="28" height="3" fill="#787878"/><rect x="262" y="247" width="28" height="3" fill="#1653af"/><rect x="177" y="250" width="29" height="3" fill="#1e58b0"/><rect x="206" y="250" width="28" height="3" fill="#fac18d"/><rect x="234" y="250" width="28" height="3" fill="#787878"/><rect x="262" y="250" width="28" height="3" fill="#b0bdb4"/><rect x="177" y="253" width="29" height="3" fill="#787878"/><rect x="206" y="253" width="28" height="3" fill="#ebe6b3"/><rect x="234" y="253" width="28" height="3" fill="#787878"/><rect x="262" y="253" width="28" height="3" fill="#787878"/><rect x="177" y="256" width="29" height="2" fill="#787878"/><rect x="206" y="256" width="28" height="2" fill="#ebe6b3"/><rect x="234" y="256" width="28" height="2" fill="#787878"/><rect x="262" y="256" width="28" height="2" fill="#787878"/><rect x="177" y="258" width="29" height="3" fill="#787878"/><rect x="206" y="258" width="28" height="3" fill="#fac18d"/><rect x="234" y="258" width="28" height="3" fill="#f9a779"/><rect x="262" y="258" width="28" height="3" fill="#787878"/><rect x="177" y="261" width="29" height="3" fill="#787878"/><rect x="206" y="261" width="28" height="3" fill="#fac18d"/><rect x="234" y="261" width="28" height="3" fill="#f9a779"/><rect x="262" y="261" width="28" height="3" fill="#787878"/><rect x="177" y="264" width="29" height="3" fill="#fab886"/><rect x="206" y="264" width="28" height="3" fill="#fbd29a"/><rect x="234" y="264" width="28" height="3" fill="#f1eab4"/><rect x="262" y="264" width="28" height="3" fill="#787878"/><rect x="177" y="267" width="29" height="2" fill="#c4ccb3"/><rect x="206" y="267" width="28" height="2" fill="#dedeb2"/><rect x="234" y="267" width="28" height="2" fill="#787878"/><rect x="262" y="267" width="28" height="2" fill="#f9eab0"/><rect x="177" y="269" width="29" height="3" fill="#4978b8"/><rect x="206" y="269" width="28" height="3" fill="#787878"/><rect x="234" y="269" width="28" height="3" fill="#787878"/><rect x="262" y="269" width="28" height="3" fill="#f9a779"/><rect x="177" y="272" width="29" height="3" fill="#fac18d"/><rect x="206" y="272" width="28" height="3" fill="#787878"/><rect x="234" y="272" width="28" height="3" fill="#787878"/><rect x="262" y="272" width="28" height="3" fill="#5e86b8"/><rect x="177" y="275" width="29" height="3" fill="#507db9"/><rect x="206" y="275" width="28" height="3" fill="#1653af"/><rect x="234" y="275" width="28" height="3" fill="#787878"/><rect x="262" y="275" width="28" height="3" fill="#96aab6"/><rect x="177" y="278" width="29" height="2" fill="#f9eab0"/><rect x="206" y="278" width="28" height="2" fill="#787878"/><rect x="234" y="278" width="28" height="2" fill="#787878"/><rect x="262" y="278" width="28" height="2" fill="#96aab6"/><rect x="177" y="280" width="29" height="3" fill="#f9eab0"/><rect x="206" y="280" width="28" height="3" fill="#787878"/><rect x="234" y="280" width="28" height="3" fill="#1653af"/><rect x="262" y="280" width="28" height="3" fill="#787878"/><rect x="177" y="283" width="29" height="3" fill="#cad0b3"/><rect x="206" y="283" width="28" height="3" fill="#2c62b2"/><rect x="234" y="283" width="28" height="3" fill="#787878"/><rect x="262" y="283" width="28" height="3" fill="#787878"/><rect x="177" y="286" width="29" height="3" fill="#dedeb2"/><rect x="206" y="286" width="28" height="3" fill="#787878"/><rect x="234" y="286" width="28" height="3" fill="#787878"/><rect x="262" y="286" width="28" height="3" fill="#f9eab0"/><rect x="177" y="289" width="29" height="3" fill="#787878"/><rect x="206" y="289" width="28" height="3" fill="#507db9"/><rect x="234" y="289" width="28" height="3" fill="#787878"/><rect x="262" y="289" width="28" height="3" fill="#96aab6"/><rect x="177" y="292" width="29" height="2" fill="#787878"/><rect x="206" y="292" width="28" height="2" fill="#787878"/><rect x="234" y="292" width="28" height="2" fill="#787878"/><rect x="262" y="292" width="28" height="2" fill="#f99e72"/><rect x="177" y="294" width="29" height="3" fill="#787878"/><rect x="206" y="294" width="28" height="3" fill="#787878"/><rect x="234" y="294" width="28" height="3" fill="#787878"/><rect x="262" y="294" width="28" height="3" fill="#f9eab0"/><rect x="177" y="297" width="29" height="3" fill="#1e58b0"/><rect x="206" y="297" width="28" height="3" fill="#787878"/><rect x="234" y="297" width="28" height="3" fill="#787878"/><rect x="262" y="297" width="28" height="3" fill="#f9eab0"/><rect x="177" y="300" width="29" height="3" fill="#787878"/><rect x="206" y="300" width="28" height="3" fill="#f8eeb4"/><rect x="234" y="300" width="28" height="3" fill="#787878"/><rect x="262" y="300" width="28" height="3" fill="#255db1"/><rect x="177" y="303" width="29" height="2" fill="#d7dab2"/><rect x="206" y="303" width="28" height="2" fill="#fbd29a"/><rect x="234" y="303" width="28" height="2" fill="#787878"/><rect x="262" y="303" width="28" height="2" fill="#787878"/><rect x="177" y="305" width="29" height="3" fill="#fbc993"/><rect x="206" y="305" width="28" height="3" fill="#787878"/><rect x="234" y="305" width="28" height="3" fill="#787878"/><rect x="262" y="305" width="28" height="3" fill="#fab886"/><rect x="177" y="308" width="29" height="3" fill="#f1eab4"/><rect x="206" y="308" width="28" height="3" fill="#cad0b3"/><rect x="234" y="308" width="28" height="3" fill="#787878"/><rect x="262" y="308" width="28" height="3" fill="#1653af"/><rect x="177" y="311" width="29" height="3" fill="#787878"/><rect x="206" y="311" width="28" height="3" fill="#f9a779"/><rect x="234" y="311" width="28" height="3" fill="#f8eeb4"/><rect x="262" y="311" width="28" height="3" fill="#787878"/><rect x="177" y="314" width="29" height="2" fill="#a3b4b5"/><rect x="206" y="314" width="28" height="2" fill="#787878"/><rect x="234" y="314" width="28" height="2" fill="#787878"/><rect x="262" y="314" width="28" height="2" fill="#787878"/><rect x="177" y="316" width="29" height="3" fill="#a3b4b5"/><rect x="206" y="316" width="28" height="3" fill="#787878"/><rect x="234" y="316" width="28" height="3" fill="#787878"/><rect x="262" y="316" width="28" height="3" fill="#787878"/><rect x="177" y="319" width="29" height="3" fill="#f99e72"/><rect x="206" y="319" width="28" height="3" fill="#787878"/><rect x="234" y="319" width="28" height="3" fill="#787878"/><rect x="262" y="319" width="28" height="3" fill="#787878"/><rect x="177" y="322" width="29" height="3" fill="#f1eab4"/><rect x="206" y="322" width="28" height="3" fill="#787878"/><rect x="234" y="322" width="28" height="3" fill="#787878"/><rect x="262" y="322" width="28" height="3" fill="#787878"/><rect x="177" y="325" width="29" height="2" fill="#f1eab4"/><rect x="206" y="325" width="28" height="2" fill="#787878"/><rect x="234" y="325" width="28" height="2" fill="#787878"/><rect x="262" y="325" width="28" height="2" fill="#787878"/><rect x="177" y="327" width="29" height="3" fill="#787878"/><rect x="206" y="327" width="28" height="3" fill="#f9a779"/><rect x="234" y="327" width="28" height="3" fill="#787878"/><rect x="262" y="327" width="28" height="3" fill="#787878"/><rect x="177" y="330" width="29" height="3" fill="#787878"/><rect x="206" y="330" width="28" height="3" fill="#fac18d"/><rect x="234" y="330" width="28" height="3" fill="#787878"/><rect x="262" y="330" width="28" height="3" fill="#787878"/><rect x="177" y="333" width="29" height="3" fill="#787878"/><rect x="206" y="333" width="28" height="3" fill="#787878"/><rect x="234" y="333" width="28" height="3" fill="#787878"/><rect x="262" y="333" width="28" height="3" fill="#f9eab0"/><rect x="177" y="336" width="29" height="3" fill="#1653af"/><rect x="206" y="336" width="28" height="3" fill="#787878"/><rect x="234" y="336" width="28" height="3" fill="#787878"/><rect x="262" y="336" width="28" height="3" fill="#f9eab0"/><rect x="177" y="339" width="29" height="2" fill="#f1eab4"/><rect x="206" y="339" width="28" height="2" fill="#787878"/><rect x="234" y="339" width="28" height="2" fill="#787878"/><rect x="262" y="339" width="28" height="2" fill="#787878"/><rect x="177" y="341" width="29" height="3" fill="#787878"/><rect x="206" y="341" width="28" height="3" fill="#787878"/><rect x="234" y="341" width="28" height="3" fill="#787878"/><rect x="262" y="341" width="28" height="3" fill="#dedeb2"/><rect x="177" y="344" width="29" height="3" fill="#787878"/><rect x="206" y="344" width="28" height="3" fill="#787878"/><rect x="234" y="344" width="28" height="3" fill="#787878"/><rect x="262" y="344" width="28" height="3" fill="#fab886"/>
<path d="M177 26h113v1h-113zM177 29h113v1h-113zM177 32h113v1h-113zM177 35h113v1h-113zM177 37h113v1h-113zM177 40h113v1h-113zM177 43h113v1h-113zM177 46h113v1h-113zM177 48h113v1h-113zM177 51h113v1h-113zM177 54h113v1h-113zM177 57h113v1h-113zM177 59h113v1h-113zM177 62h113v1h-113zM177 65h113v1h-113zM177 68h113v1h-113zM177 70h113v1h-113zM177 73h113v1h-113zM177 76h113v1h-113zM177 79h113v1h-113zM177 82h113v1h-113zM177 84h113v1h-113zM177 87h113v1h-113zM177 90h113v1h-113zM177 93h113v1h-113zM177 95h113v1h-113zM177 98h113v1h-113zM177 101h113v1h-113zM177 104h113v1h-113zM177 106h113v1h-113zM177 109h113v1h-113zM177 112h113v1h-113zM177 115h113v1h-113zM177 117h113v1h-113zM177 120h113v1h-113zM177 123h113v1h-113zM177 126h113v1h-113zM177 129h113v1h-113zM177 131h113v1h-113zM177 134h113v1h-113zM177 137h113v1h-113zM177 140h113v1h-113zM177 142h113v1h-113zM177 145h113v1h-113zM177 148h113v1h-113zM177 151h113v1h-113zM177 153h113v1h-113zM177 156h113v1h-113zM177 159h113v1h-113zM177 162h113v1h-113zM177 164h113v1h-113zM177 167h113v1h-113zM177 170h113v1h-113zM177 173h113v1h-113zM177 175h113v1h-113zM177 178h113v1h-113zM177 181h113v1h-113zM177 184h113v1h-113zM177 187h113v1h-113zM177 189h113v1h-113zM177 192h113v1h-113zM177 195h113v1h-113zM177 198h113v1h-113zM177 200h113v1h-113zM177 203h113v1h-113zM177 206h113v1h-113zM177 209h113v1h-113zM177 211h113v1h-113zM177 214h113v1h-113zM177 217h113v1h-113zM177 220h113v1h-113zM177 222h113v1h-113zM177 225h113v1h-113zM177 228h113v1h-113zM177 231h113v1h-113zM177 234h113v1h-113zM177 236h113v1h-113zM177 239h113v1h-113zM177 242h113v1h-113zM177 245h113v1h-113zM177 247h113v1h-113zM177 250h113v1h-113zM177 253h113v1h-113zM177 256h113v1h-113zM177 258h113v1h-113zM177 261h113v1h-113zM177 264h113v1h-113zM177 267h113v1h-113zM177 269h113v1h-113zM177 272h113v1h-113zM177 275h113v1h-113zM177 278h113v1h-113zM177 280h113v1h-113zM177 283h113v1h-113zM177 286h113v1h-113zM177 289h113v1h-113zM177 292h113v1h-113zM177 294h113v1h-113zM177 297h113v1h-113zM177 300h113v1h-113zM177 303h113v1h-113zM177 305h113v1h-113zM177 308h113v1h-113zM177 311h113v1h-113zM177 314h113v1h-113zM177 316h113v1h-113zM177 319h113v1h-113zM177 322h113v1h-113zM177 325h113v1h-113zM177 327h113v1h-113zM177 330h113v1h-113zM177 333h113v1h-113zM177 336h113v1h-113zM177 339h113v1h-113zM177 341h113v1h-113zM177 344h113v1h-113z" fill="#fff" opacity="0.55"/>
<path d="M206 24v323h1v-323zM234 24v323h1v-323zM262 24v323h1v-323z" fill="#fff" opacity="0.7"/></g>
<g font-size="3.5" fill="#000" stroke="#000" stroke-width="0.06"><text x="293.30" y="25.88" textLength="23.9" lengthAdjust="spacingAndGlyphs">CmoCh20G16774</text><text x="293.30" y="28.64" textLength="24.0" lengthAdjust="spacingAndGlyphs">CmoCh07G11468</text><text x="293.30" y="31.41" textLength="25.0" lengthAdjust="spacingAndGlyphs">CmoCh19G14286</text><text x="293.30" y="34.17" textLength="25.7" lengthAdjust="spacingAndGlyphs">CmoCh16G03521</text><text x="293.30" y="36.93" textLength="24.8" lengthAdjust="spacingAndGlyphs">CmoCh13G09801</text><text x="293.30" y="39.70" textLength="25.0" lengthAdjust="spacingAndGlyphs">CmoCh01G10760</text><text x="293.30" y="42.46" textLength="23.8" lengthAdjust="spacingAndGlyphs">CmoCh13G09319</text><text x="293.30" y="45.22" textLength="25.4" lengthAdjust="spacingAndGlyphs">CmoCh07G10839</text><text x="293.30" y="47.99" textLength="24.5" lengthAdjust="spacingAndGlyphs">CmoCh19G04528</text><text x="293.30" y="50.75" textLength="25.1" lengthAdjust="spacingAndGlyphs">CmoCh07G08833</text><text x="293.30" y="53.51" textLength="24.5" lengthAdjust="spacingAndGlyphs">CmoCh13G18044</text><text x="293.30" y="56.28" textLength="25.3" lengthAdjust="spacingAndGlyphs">CmoCh18G15976</text><text x="293.30" y="59.04" textLength="23.9" lengthAdjust="spacingAndGlyphs">CmoCh18G07788</text><text x="293.30" y="61.80" textLength="24.1" lengthAdjust="spacingAndGlyphs">CmoCh02G02874</text><text x="293.30" y="64.57" textLength="24.2" lengthAdjust="spacingAndGlyphs">CmoCh06G17736</text><text x="293.30" y="67.33" textLength="24.8" lengthAdjust="spacingAndGlyphs">CmoCh11G19767</text><text x="293.30" y="70.09" textLength="24.5" lengthAdjust="spacingAndGlyphs">CmoCh09G12162</text><text x="293.30" y="72.86" textLength="24.3" lengthAdjust="spacingAndGlyphs">CmoCh04G09642</text><text x="293.30" y="75.62" textLength="24.1" lengthAdjust="spacingAndGlyphs">CmoCh20G16116</text><text x="293.30" y="78.38" textLength="24.4" lengthAdjust="spacingAndGlyphs">CmoCh18G03516</text><text x="293.30" y="81.15" textLength="24.6" lengthAdjust="spacingAndGlyphs">CmoCh14G02498</text><text x="293.30" y="83.91" textLength="24.5" lengthAdjust="spacingAndGlyphs">CmoCh05G04196</text><text x="293.30" y="86.67" textLength="25.4" lengthAdjust="spacingAndGlyphs">CmoCh20G19348</text><text x="293.30" y="89.44" textLength="24.9" lengthAdjust="spacingAndGlyphs">CmoCh13G02611</text><text x="293.30" y="92.20" textLength="24.0" lengthAdjust="spacingAndGlyphs">CmoCh08G18645</text><text x="293.30" y="94.96" textLength="25.6" lengthAdjust="spacingAndGlyphs">CmoCh09G12056</text><text x="293.30" y="97.73" textLength="25.7" lengthAdjust="spacingAndGlyphs">CmoCh19G17607</text><text x="293.30" y="100.49" textLength="24.0" lengthAdjust="spacingAndGlyphs">CmoCh15G09182</text><text x="293.30" y="103.25" textLength="23.8" lengthAdjust="spacingAndGlyphs">CmoCh02G09790</text><text x="293.30" y="106.02" textLength="24.6" lengthAdjust="spacingAndGlyphs">CmoCh01G03104</text><text x="293.30" y="108.78" textLength="24.3" lengthAdjust="spacingAndGlyphs">CmoCh02G06257</text><text x="293.30" y="111.54" textLength="24.1" lengthAdjust="spacingAndGlyphs">CmoCh19G13895</text><text x="293.30" y="114.31" textLength="25.2" lengthAdjust="spacingAndGlyphs">CmoCh15G05584</text><text x="293.30" y="117.07" textLength="24.7" lengthAdjust="spacingAndGlyphs">CmoCh06G03469</text><text x="293.30" y="119.83" textLength="25.6" lengthAdjust="spacingAndGlyphs">CmoCh13G17890</text><text x="293.30" y="122.60" textLength="24.3" lengthAdjust="spacingAndGlyphs">CmoCh10G18129</text><text x="293.30" y="125.36" textLength="24.0" lengthAdjust="spacingAndGlyphs">CmoCh16G10404</text><text x="293.30" y="128.12" textLength="23.9" lengthAdjust="spacingAndGlyphs">CmoCh11G01398</text><text x="293.30" y="130.89" textLength="24.4" lengthAdjust="spacingAndGlyphs">CmoCh10G19648</text><text x="293.30" y="133.65" textLength="24.6" lengthAdjust="spacingAndGlyphs">CmoCh13G10365</text><text x="293.30" y="136.41" textLength="25.7" lengthAdjust="spacingAndGlyphs">CmoCh03G10498</text><text x="293.30" y="139.17" textLength="24.3" lengthAdjust="spacingAndGlyphs">CmoCh15G03749</text><text x="293.30" y="141.94" textLength="25.5" lengthAdjust="spacingAndGlyphs">CmoCh20G17890</text><text x="293.30" y="144.70" textLength="24.3" lengthAdjust="spacingAndGlyphs">CmoCh16G11759</text><text x="293.30" y="147.46" textLength="24.4" lengthAdjust="spacingAndGlyphs">CmoCh18G06910</text><text x="293.30" y="150.23" textLength="24.0" lengthAdjust="spacingAndGlyphs">CmoCh08G11911</text><text x="293.30" y="152.99" textLength="25.8" lengthAdjust="spacingAndGlyphs">CmoCh09G03029</text><text x="293.30" y="155.75" textLength="25.1" lengthAdjust="spacingAndGlyphs">CmoCh15G03065</text><text x="293.30" y="158.52" textLength="24.6" lengthAdjust="spacingAndGlyphs">CmoCh11G07552</text><text x="293.30" y="161.28" textLength="24.5" lengthAdjust="spacingAndGlyphs">CmoCh10G01445</text><text x="293.30" y="164.04" textLength="25.6" lengthAdjust="spacingAndGlyphs">CmoCh11G19072</text><text x="293.30" y="166.81" textLength="24.5" lengthAdjust="spacingAndGlyphs">CmoCh10G08155</text><text x="293.30" y="169.57" textLength="25.4" lengthAdjust="spacingAndGlyphs">CmoCh18G19072</text><text x="293.30" y="172.33" textLength="24.2" lengthAdjust="spacingAndGlyphs">CmoCh03G08131</text><text x="293.30" y="175.10" textLength="23.9" lengthAdjust="spacingAndGlyphs">CmoCh08G13265</text><text x="293.30" y="177.86" textLength="25.3" lengthAdjust="spacingAndGlyphs">CmoCh18G02423</text><text x="293.30" y="180.62" textLength="24.4" lengthAdjust="spacingAndGlyphs">CmoCh01G00424</text><text x="293.30" y="183.39" textLength="24.7" lengthAdjust="spacingAndGlyphs">CmoCh12G16263</text><text x="293.30" y="186.15" textLength="24.8" lengthAdjust="spacingAndGlyphs">CmoCh05G03407</text><text x="293.30" y="188.91" textLength="24.8" lengthAdjust="spacingAndGlyphs">CmoCh11G02626</text><text x="293.30" y="191.68" textLength="25.4" lengthAdjust="spacingAndGlyphs">CmoCh06G05984</text><text x="293.30" y="194.44" textLength="24.4" lengthAdjust="spacingAndGlyphs">CmoCh05G10578</text><text x="293.30" y="197.20" textLength="24.4" lengthAdjust="spacingAndGlyphs">CmoCh17G19822</text><text x="293.30" y="199.97" textLength="24.9" lengthAdjust="spacingAndGlyphs">CmoCh07G04742</text><text x="293.30" y="202.73" textLength="25.4" lengthAdjust="spacingAndGlyphs">CmoCh02G10456</text><text x="293.30" y="205.49" textLength="25.5" lengthAdjust="spacingAndGlyphs">CmoCh20G18219</text><text x="293.30" y="208.26" textLength="24.4" lengthAdjust="spacingAndGlyphs">CmoCh07G05937</text><text x="293.30" y="211.02" textLength="23.9" lengthAdjust="spacingAndGlyphs">CmoCh18G05273</text><text x="293.30" y="213.78" textLength="25.4" lengthAdjust="spacingAndGlyphs">CmoCh08G08376</text><text x="293.30" y="216.55" textLength="24.9" lengthAdjust="spacingAndGlyphs">CmoCh15G14195</text><text x="293.30" y="219.31" textLength="25.5" lengthAdjust="spacingAndGlyphs">CmoCh18G14498</text><text x="293.30" y="222.07" textLength="24.6" lengthAdjust="spacingAndGlyphs">CmoCh15G00456</text><text x="293.30" y="224.84" textLength="24.3" lengthAdjust="spacingAndGlyphs">CmoCh11G05720</text><text x="293.30" y="227.60" textLength="25.8" lengthAdjust="spacingAndGlyphs">CmoCh01G13753</text><text x="293.30" y="230.36" textLength="25.2" lengthAdjust="spacingAndGlyphs">CmoCh01G02142</text><text x="293.30" y="233.13" textLength="25.0" lengthAdjust="spacingAndGlyphs">CmoCh19G04631</text><text x="293.30" y="235.89" textLength="25.8" lengthAdjust="spacingAndGlyphs">CmoCh05G08590</text><text x="293.30" y="238.65" textLength="24.9" lengthAdjust="spacingAndGlyphs">CmoCh09G13135</text><text x="293.30" y="241.41" textLength="24.3" lengthAdjust="spacingAndGlyphs">CmoCh06G03024</text><text x="293.30" y="244.18" textLength="24.9" lengthAdjust="spacingAndGlyphs">CmoCh01G05918</text><text x="293.30" y="246.94" textLength="25.7" lengthAdjust="spacingAndGlyphs">CmoCh17G14462</text><text x="293.30" y="249.70" textLength="24.4" lengthAdjust="spacingAndGlyphs">CmoCh08G07911</text><text x="293.30" y="252.47" textLength="25.2" lengthAdjust="spacingAndGlyphs">CmoCh16G07474</text><text x="293.30" y="255.23" textLength="25.0" lengthAdjust="spacingAndGlyphs">CmoCh11G18463</text><text x="293.30" y="257.99" textLength="23.9" lengthAdjust="spacingAndGlyphs">CmoCh09G07291</text><text x="293.30" y="260.76" textLength="25.1" lengthAdjust="spacingAndGlyphs">CmoCh03G16867</text><text x="293.30" y="263.52" textLength="24.8" lengthAdjust="spacingAndGlyphs">CmoCh12G05325</text><text x="293.30" y="266.28" textLength="24.4" lengthAdjust="spacingAndGlyphs">CmoCh07G10317</text><text x="293.30" y="269.05" textLength="24.5" lengthAdjust="spacingAndGlyphs">CmoCh10G18198</text><text x="293.30" y="271.81" textLength="24.0" lengthAdjust="spacingAndGlyphs">CmoCh15G19583</text><text x="293.30" y="274.57" textLength="25.7" lengthAdjust="spacingAndGlyphs">CmoCh04G19960</text><text x="293.30" y="277.34" textLength="24.2" lengthAdjust="spacingAndGlyphs">CmoCh19G12460</text><text x="293.30" y="280.10" textLength="24.2" lengthAdjust="spacingAndGlyphs">CmoCh09G14083</text><text x="293.30" y="282.86" textLength="24.8" lengthAdjust="spacingAndGlyphs">CmoCh19G01808</text><text x="293.30" y="285.63" textLength="24.6" lengthAdjust="spacingAndGlyphs">CmoCh13G11502</text><text x="293.30" y="288.39" textLength="25.3" lengthAdjust="spacingAndGlyphs">CmoCh06G17933</text><text x="293.30" y="291.15" textLength="25.8" lengthAdjust="spacingAndGlyphs">CmoCh02G17276</text><text x="293.30" y="293.92" textLength="24.3" lengthAdjust="spacingAndGlyphs">CmoCh09G03411</text><text x="293.30" y="296.68" textLength="25.7" lengthAdjust="spacingAndGlyphs">CmoCh03G04658</text><text x="293.30" y="299.44" textLength="24.7" lengthAdjust="spacingAndGlyphs">CmoCh20G02787</text><text x="293.30" y="302.21" textLength="25.7" lengthAdjust="spacingAndGlyphs">CmoCh08G12628</text><text x="293.30" y="304.97" textLength="24.1" lengthAdjust="spacingAndGlyphs">CmoCh14G13116</text><text x="293.30" y="307.73" textLength="24.1" lengthAdjust="spacingAndGlyphs">CmoCh11G14456</text><text x="293.30" y="310.50" textLength="24.0" lengthAdjust="spacingAndGlyphs">CmoCh16G07047</text><text x="293.30" y="313.26" textLength="24.6" lengthAdjust="spacingAndGlyphs">CmoCh20G17599</text><text x="293.30" y="316.02" textLength="24.4" lengthAdjust="spacingAndGlyphs">CmoCh04G09782</text><text x="293.30" y="318.79" textLength="23.8" lengthAdjust="spacingAndGlyphs">CmoCh13G18429</text><text x="293.30" y="321.55" textLength="24.7" lengthAdjust="spacingAndGlyphs">CmoCh07G17413</text><text x="293.30" y="324.31" textLength="25.1" lengthAdjust="spacingAndGlyphs">CmoCh01G01109</text><text x="293.30" y="327.08" textLength="25.5" lengthAdjust="spacingAndGlyphs">CmoCh20G08037</text><text x="293.30" y="329.84" textLength="24.4" lengthAdjust="spacingAndGlyphs">CmoCh07G05764</text><text x="293.30" y="332.60" textLength="24.3" lengthAdjust="spacingAndGlyphs">CmoCh18G06668</text><text x="293.30" y="335.37" textLength="25.5" lengthAdjust="spacingAndGlyphs">CmoCh19G08320</text><text x="293.30" y="338.13" textLength="24.9" lengthAdjust="spacingAndGlyphs">CmoCh15G05604</text><text x="293.30" y="340.89" textLength="25.5" lengthAdjust="spacingAndGlyphs">CmoCh16G13861</text><text x="293.30" y="343.66" textLength="25.6" lengthAdjust="spacingAndGlyphs">CmoCh07G18795</text><text x="293.30" y="346.42" textLength="25.4" lengthAdjust="spacingAndGlyphs">CmoCh07G09407</text></g>
<text x="237.9" y="14.0" font-size="12" text-anchor="middle" fill="#000" stroke="#000" stroke-width="0.08">II</text>
<text transform="translate(189.00,357.10) rotate(-45)" text-anchor="end" font-size="7.7" font-weight="bold" fill="#000" stroke="#000" stroke-width="0.12">Stems</text>
<text transform="translate(220.10,357.10) rotate(-45)" text-anchor="end" font-size="7.7" font-weight="bold" fill="#000" stroke="#000" stroke-width="0.12">Roots</text>
<text transform="translate(251.50,357.10) rotate(-45)" text-anchor="end" font-size="7.7" font-weight="bold" fill="#000" stroke="#000" stroke-width="0.12">Fruits</text>
<text transform="translate(282.30,357.10) rotate(-45)" text-anchor="end" font-size="7.7" font-weight="bold" fill="#000" stroke="#000" stroke-width="0.12">Leaves</text>
<g><rect x="350" y="22" width="28" height="3" fill="#787878"/><rect x="378" y="22" width="28" height="3" fill="#787878"/><rect x="406" y="22" width="28" height="3" fill="#5e86b8"/><rect x="434" y="22" width="29" height="3" fill="#787878"/><rect x="350" y="25" width="28" height="3" fill="#787878"/><rect x="378" y="25" width="28" height="3" fill="#787878"/><rect x="406" y="25" width="28" height="3" fill="#787878"/><rect x="434" y="25" width="29" height="3" fill="#4272b6"/><rect x="350" y="28" width="28" height="3" fill="#96aab6"/><rect x="378" y="28" width="28" height="3" fill="#787878"/><rect x="406" y="28" width="28" height="3" fill="#1653af"/><rect x="434" y="28" width="29" height="3" fill="#787878"/><rect x="350" y="31" width="28" height="3" fill="#787878"/><rect x="378" y="31" width="28" height="3" fill="#1e58b0"/><rect x="406" y="31" width="28" height="3" fill="#1653af"/><rect x="434" y="31" width="29" height="3" fill="#787878"/><rect x="350" y="34" width="28" height="3" fill="#787878"/><rect x="378" y="34" width="28" height="3" fill="#787878"/><rect x="406" y="34" width="28" height="3" fill="#a3b4b5"/><rect x="434" y="34" width="29" height="3" fill="#787878"/><rect x="350" y="37" width="28" height="3" fill="#1653af"/><rect x="378" y="37" width="28" height="3" fill="#787878"/><rect x="406" y="37" width="28" height="3" fill="#787878"/><rect x="434" y="37" width="29" height="3" fill="#1653af"/><rect x="350" y="40" width="28" height="4" fill="#787878"/><rect x="378" y="40" width="28" height="4" fill="#787878"/><rect x="406" y="40" width="28" height="4" fill="#787878"/><rect x="434" y="40" width="29" height="4" fill="#1e58b0"/><rect x="350" y="44" width="28" height="3" fill="#787878"/><rect x="378" y="44" width="28" height="3" fill="#787878"/><rect x="406" y="44" width="28" height="3" fill="#787878"/><rect x="434" y="44" width="29" height="3" fill="#787878"/><rect x="350" y="47" width="28" height="3" fill="#1653af"/><rect x="378" y="47" width="28" height="3" fill="#787878"/><rect x="406" y="47" width="28" height="3" fill="#787878"/><rect x="434" y="47" width="29" height="3" fill="#787878"/><rect x="350" y="50" width="28" height="3" fill="#787878"/><rect x="378" y="50" width="28" height="3" fill="#787878"/><rect x="406" y="50" width="28" height="3" fill="#787878"/><rect x="434" y="50" width="29" height="3" fill="#787878"/><rect x="350" y="53" width="28" height="3" fill="#787878"/><rect x="378" y="53" width="28" height="3" fill="#787878"/><rect x="406" y="53" width="28" height="3" fill="#787878"/><rect x="434" y="53" width="29" height="3" fill="#787878"/><rect x="350" y="56" width="28" height="3" fill="#787878"/><rect x="378" y="56" width="28" height="3" fill="#787878"/><rect x="406" y="56" width="28" height="3" fill="#787878"/><rect x="434" y="56" width="29" height="3" fill="#787878"/><rect x="350" y="59" width="28" height="3" fill="#787878"/><rect x="378" y="59" width="28" height="3" fill="#787878"/><rect x="406" y="59" width="28" height="3" fill="#787878"/><rect x="434" y="59" width="29" height="3" fill="#1653af"/><rect x="350" y="62" width="28" height="3" fill="#787878"/><rect x="378" y="62" width="28" height="3" fill="#787878"/><rect x="406" y="62" width="28" height="3" fill="#787878"/><rect x="434" y="62" width="29" height="3" fill="#787878"/><rect x="350" y="65" width="28" height="3" fill="#787878"/><rect x="378" y="65" width="28" height="3" fill="#787878"/><rect x="406" y="65" width="28" height="3" fill="#787878"/><rect x="434" y="65" width="29" height="3" fill="#787878"/><rect x="350" y="68" width="28" height="3" fill="#787878"/><rect x="378" y="68" width="28" height="3" fill="#787878"/><rect x="406" y="68" width="28" height="3" fill="#787878"/><rect x="434" y="68" width="29" height="3" fill="#1653af"/><rect x="350" y="71" width="28" height="3" fill="#787878"/><rect x="378" y="71" width="28" height="3" fill="#787878"/><rect x="406" y="71" width="28" height="3" fill="#787878"/><rect x="434" y="71" width="29" height="3" fill="#787878"/><rect x="350" y="74" width="28" height="3" fill="#787878"/><rect x="378" y="74" width="28" height="3" fill="#787878"/><rect x="406" y="74" width="28" height="3" fill="#787878"/><rect x="434" y="74" width="29" height="3" fill="#787878"/><rect x="350" y="77" width="28" height="3" fill="#787878"/><rect x="378" y="77" width="28" height="3" fill="#787878"/><rect x="406" y="77" width="28" height="3" fill="#787878"/><rect x="434" y="77" width="29" height="3" fill="#787878"/><rect x="350" y="80" width="28" height="3" fill="#787878"/><rect x="378" y="80" width="28" height="3" fill="#787878"/><rect x="406" y="80" width="28" height="3" fill="#1653af"/><rect x="434" y="80" width="29" height="3" fill="#787878"/><rect x="350" y="83" width="28" height="3" fill="#787878"/><rect x="378" y="83" width="28" height="3" fill="#787878"/><rect x="406" y="83" width="28" height="3" fill="#787878"/><rect x="434" y="83" width="29" height="3" fill="#a3b4b5"/><rect x="350" y="86" width="28" height="4" fill="#787878"/><rect x="378" y="86" width="28" height="4" fill="#787878"/><rect x="406" y="86" width="28" height="4" fill="#787878"/><rect x="434" y="86" width="29" height="4" fill="#787878"/><rect x="350" y="90" width="28" height="3" fill="#787878"/><rect x="378" y="90" width="28" height="3" fill="#787878"/><rect x="406" y="90" width="28" height="3" fill="#787878"/><rect x="434" y="90" width="29" height="3" fill="#787878"/><rect x="350" y="93" width="28" height="3" fill="#787878"/><rect x="378" y="93" width="28" height="3" fill="#787878"/><rect x="406" y="93" width="28" height="3" fill="#787878"/><rect x="434" y="93" width="29" height="3" fill="#787878"/><rect x="350" y="96" width="28" height="3" fill="#787878"/><rect x="378" y="96" width="28" height="3" fill="#1653af"/><rect x="406" y="96" width="28" height="3" fill="#787878"/><rect x="434" y="96" width="29" height="3" fill="#787878"/><rect x="350" y="99" width="28" height="3" fill="#1955af"/><rect x="378" y="99" width="28" height="3" fill="#255db1"/><rect x="406" y="99" width="28" height="3" fill="#787878"/><rect x="434" y="99" width="29" height="3" fill="#787878"/><rect x="350" y="102" width="28" height="3" fill="#787878"/><rect x="378" y="102" width="28" height="3" fill="#787878"/><rect x="406" y="102" width="28" height="3" fill="#787878"/><rect x="434" y="102" width="29" height="3" fill="#787878"/><rect x="350" y="105" width="28" height="3" fill="#787878"/><rect x="378" y="105" width="28" height="3" fill="#1653af"/><rect x="406" y="105" width="28" height="3" fill="#787878"/><rect x="434" y="105" width="29" height="3" fill="#787878"/><rect x="350" y="108" width="28" height="3" fill="#787878"/><rect x="378" y="108" width="28" height="3" fill="#787878"/><rect x="406" y="108" width="28" height="3" fill="#787878"/><rect x="434" y="108" width="29" height="3" fill="#787878"/><rect x="350" y="111" width="28" height="3" fill="#787878"/><rect x="378" y="111" width="28" height="3" fill="#8fa6b6"/><rect x="406" y="111" width="28" height="3" fill="#787878"/><rect x="434" y="111" width="29" height="3" fill="#787878"/><rect x="350" y="114" width="28" height="3" fill="#787878"/><rect x="378" y="114" width="28" height="3" fill="#4978b8"/><rect x="406" y="114" width="28" height="3" fill="#1653af"/><rect x="434" y="114" width="29" height="3" fill="#787878"/><rect x="350" y="117" width="28" height="3" fill="#787878"/><rect x="378" y="117" width="28" height="3" fill="#787878"/><rect x="406" y="117" width="28" height="3" fill="#787878"/><rect x="434" y="117" width="29" height="3" fill="#787878"/><rect x="350" y="120" width="28" height="3" fill="#787878"/><rect x="378" y="120" width="28" height="3" fill="#787878"/><rect x="406" y="120" width="28" height="3" fill="#787878"/><rect x="434" y="120" width="29" height="3" fill="#787878"/><rect x="350" y="123" width="28" height="3" fill="#1653af"/><rect x="378" y="123" width="28" height="3" fill="#787878"/><rect x="406" y="123" width="28" height="3" fill="#787878"/><rect x="434" y="123" width="29" height="3" fill="#787878"/><rect x="350" y="126" width="28" height="3" fill="#787878"/><rect x="378" y="126" width="28" height="3" fill="#787878"/><rect x="406" y="126" width="28" height="3" fill="#787878"/><rect x="434" y="126" width="29" height="3" fill="#787878"/><rect x="350" y="129" width="28" height="3" fill="#787878"/><rect x="378" y="129" width="28" height="3" fill="#787878"/><rect x="406" y="129" width="28" height="3" fill="#787878"/><rect x="434" y="129" width="29" height="3" fill="#787878"/><rect x="350" y="132" width="28" height="4" fill="#787878"/><rect x="378" y="132" width="28" height="4" fill="#787878"/><rect x="406" y="132" width="28" height="4" fill="#787878"/><rect x="434" y="132" width="29" height="4" fill="#787878"/><rect x="350" y="136" width="28" height="3" fill="#787878"/><rect x="378" y="136" width="28" height="3" fill="#787878"/><rect x="406" y="136" width="28" height="3" fill="#787878"/><rect x="434" y="136" width="29" height="3" fill="#787878"/><rect x="350" y="139" width="28" height="3" fill="#787878"/><rect x="378" y="139" width="28" height="3" fill="#787878"/><rect x="406" y="139" width="28" height="3" fill="#787878"/><rect x="434" y="139" width="29" height="3" fill="#787878"/><rect x="350" y="142" width="28" height="3" fill="#787878"/><rect x="378" y="142" width="28" height="3" fill="#787878"/><rect x="406" y="142" width="28" height="3" fill="#787878"/><rect x="434" y="142" width="29" height="3" fill="#787878"/><rect x="350" y="145" width="28" height="3" fill="#787878"/><rect x="378" y="145" width="28" height="3" fill="#787878"/><rect x="406" y="145" width="28" height="3" fill="#787878"/><rect x="434" y="145" width="29" height="3" fill="#787878"/><rect x="350" y="148" width="28" height="3" fill="#787878"/><rect x="378" y="148" width="28" height="3" fill="#787878"/><rect x="406" y="148" width="28" height="3" fill="#787878"/><rect x="434" y="148" width="29" height="3" fill="#787878"/><rect x="350" y="151" width="28" height="3" fill="#787878"/><rect x="378" y="151" width="28" height="3" fill="#787878"/><rect x="406" y="151" width="28" height="3" fill="#787878"/><rect x="434" y="151" width="29" height="3" fill="#dcdcc8"/><rect x="350" y="154" width="28" height="3" fill="#787878"/><rect x="378" y="154" width="28" height="3" fill="#787878"/><rect x="406" y="154" width="28" height="3" fill="#787878"/><rect x="434" y="154" width="29" height="3" fill="#787878"/><rect x="350" y="157" width="28" height="3" fill="#787878"/><rect x="378" y="157" width="28" height="3" fill="#787878"/><rect x="406" y="157" width="28" height="3" fill="#787878"/><rect x="434" y="157" width="29" height="3" fill="#787878"/><rect x="350" y="160" width="28" height="3" fill="#787878"/><rect x="378" y="160" width="28" height="3" fill="#787878"/><rect x="406" y="160" width="28" height="3" fill="#787878"/><rect x="434" y="160" width="29" height="3" fill="#787878"/><rect x="350" y="163" width="28" height="3" fill="#787878"/><rect x="378" y="163" width="28" height="3" fill="#787878"/><rect x="406" y="163" width="28" height="3" fill="#787878"/><rect x="434" y="163" width="29" height="3" fill="#787878"/><rect x="350" y="166" width="28" height="3" fill="#787878"/><rect x="378" y="166" width="28" height="3" fill="#787878"/><rect x="406" y="166" width="28" height="3" fill="#787878"/><rect x="434" y="166" width="29" height="3" fill="#787878"/><rect x="350" y="169" width="28" height="3" fill="#787878"/><rect x="378" y="169" width="28" height="3" fill="#787878"/><rect x="406" y="169" width="28" height="3" fill="#787878"/><rect x="434" y="169" width="29" height="3" fill="#787878"/><rect x="350" y="172" width="28" height="3" fill="#787878"/><rect x="378" y="172" width="28" height="3" fill="#1653af"/><rect x="406" y="172" width="28" height="3" fill="#787878"/><rect x="434" y="172" width="29" height="3" fill="#787878"/><rect x="350" y="175" width="28" height="3" fill="#787878"/><rect x="378" y="175" width="28" height="3" fill="#787878"/><rect x="406" y="175" width="28" height="3" fill="#787878"/><rect x="434" y="175" width="29" height="3" fill="#787878"/><rect x="350" y="178" width="28" height="4" fill="#787878"/><rect x="378" y="178" width="28" height="4" fill="#787878"/><rect x="406" y="178" width="28" height="4" fill="#787878"/><rect x="434" y="178" width="29" height="4" fill="#787878"/><rect x="350" y="182" width="28" height="3" fill="#787878"/><rect x="378" y="182" width="28" height="3" fill="#787878"/><rect x="406" y="182" width="28" height="3" fill="#787878"/><rect x="434" y="182" width="29" height="3" fill="#787878"/><rect x="350" y="185" width="28" height="3" fill="#787878"/><rect x="378" y="185" width="28" height="3" fill="#787878"/><rect x="406" y="185" width="28" height="3" fill="#787878"/><rect x="434" y="185" width="29" height="3" fill="#787878"/><rect x="350" y="188" width="28" height="3" fill="#787878"/><rect x="378" y="188" width="28" height="3" fill="#787878"/><rect x="406" y="188" width="28" height="3" fill="#787878"/><rect x="434" y="188" width="29" height="3" fill="#787878"/><rect x="350" y="191" width="28" height="3" fill="#787878"/><rect x="378" y="191" width="28" height="3" fill="#787878"/><rect x="406" y="191" width="28" height="3" fill="#787878"/><rect x="434" y="191" width="29" height="3" fill="#787878"/><rect x="350" y="194" width="28" height="3" fill="#787878"/><rect x="378" y="194" width="28" height="3" fill="#787878"/><rect x="406" y="194" width="28" height="3" fill="#787878"/><rect x="434" y="194" width="29" height="3" fill="#787878"/><rect x="350" y="197" width="28" height="3" fill="#787878"/><rect x="378" y="197" width="28" height="3" fill="#787878"/><rect x="406" y="197" width="28" height="3" fill="#787878"/><rect x="434" y="197" width="29" height="3" fill="#787878"/><rect x="350" y="200" width="28" height="3" fill="#787878"/><rect x="378" y="200" width="28" height="3" fill="#787878"/><rect x="406" y="200" width="28" height="3" fill="#787878"/><rect x="434" y="200" width="29" height="3" fill="#787878"/><rect x="350" y="203" width="28" height="3" fill="#787878"/><rect x="378" y="203" width="28" height="3" fill="#787878"/><rect x="406" y="203" width="28" height="3" fill="#787878"/><rect x="434" y="203" width="29" height="3" fill="#787878"/>
<path d="M350 25h113v1h-113zM350 28h113v1h-113zM350 31h113v1h-113zM350 34h113v1h-113zM350 37h113v1h-113zM350 40h113v1h-113zM350 44h113v1h-113zM350 47h113v1h-113zM350 50h113v1h-113zM350 53h113v1h-113zM350 56h113v1h-113zM350 59h113v1h-113zM350 62h113v1h-113zM350 65h113v1h-113zM350 68h113v1h-113zM350 71h113v1h-113zM350 74h113v1h-113zM350 77h113v1h-113zM350 80h113v1h-113zM350 83h113v1h-113zM350 86h113v1h-113zM350 90h113v1h-113zM350 93h113v1h-113zM350 96h113v1h-113zM350 99h113v1h-113zM350 102h113v1h-113zM350 105h113v1h-113zM350 108h113v1h-113zM350 111h113v1h-113zM350 114h113v1h-113zM350 117h113v1h-113zM350 120h113v1h-113zM350 123h113v1h-113zM350 126h113v1h-113zM350 129h113v1h-113zM350 132h113v1h-113zM350 136h113v1h-113zM350 139h113v1h-113zM350 142h113v1h-113zM350 145h113v1h-113zM350 148h113v1h-113zM350 151h113v1h-113zM350 154h113v1h-113zM350 157h113v1h-113zM350 160h113v1h-113zM350 163h113v1h-113zM350 166h113v1h-113zM350 169h113v1h-113zM350 172h113v1h-113zM350 175h113v1h-113zM350 178h113v1h-113zM350 182h113v1h-113zM350 185h113v1h-113zM350 188h113v1h-113zM350 191h113v1h-113zM350 194h113v1h-113zM350 197h113v1h-113zM350 200h113v1h-113zM350 203h113v1h-113z" fill="#fff" opacity="0.6"/>
<path d="M378 22v184h1v-184zM406 22v184h1v-184zM434 22v184h1v-184z" fill="#fff" opacity="0.7"/></g>
<g font-size="3.5" fill="#000" stroke="#000" stroke-width="0.06"><text x="465.80" y="24.63" textLength="24.9" lengthAdjust="spacingAndGlyphs">CmoCh01G03968</text><text x="465.80" y="27.70" textLength="24.4" lengthAdjust="spacingAndGlyphs">CmoCh01G17967</text><text x="465.80" y="30.77" textLength="24.8" lengthAdjust="spacingAndGlyphs">CmoCh05G02563</text><text x="465.80" y="33.83" textLength="24.7" lengthAdjust="spacingAndGlyphs">CmoCh19G10299</text><text x="465.80" y="36.90" textLength="24.4" lengthAdjust="spacingAndGlyphs">CmoCh12G17414</text><text x="465.80" y="39.97" textLength="25.2" lengthAdjust="spacingAndGlyphs">CmoCh04G14593</text><text x="465.80" y="43.03" textLength="24.9" lengthAdjust="spacingAndGlyphs">CmoCh12G10087</text><text x="465.80" y="46.10" textLength="24.8" lengthAdjust="spacingAndGlyphs">CmoCh11G18824</text><text x="465.80" y="49.17" textLength="24.2" lengthAdjust="spacingAndGlyphs">CmoCh13G12630</text><text x="465.80" y="52.23" textLength="25.1" lengthAdjust="spacingAndGlyphs">CmoCh01G09197</text><text x="465.80" y="55.30" textLength="25.8" lengthAdjust="spacingAndGlyphs">CmoCh17G06616</text><text x="465.80" y="58.37" textLength="25.5" lengthAdjust="spacingAndGlyphs">CmoCh15G19788</text><text x="465.80" y="61.43" textLength="25.2" lengthAdjust="spacingAndGlyphs">CmoCh14G10105</text><text x="465.80" y="64.50" textLength="24.2" lengthAdjust="spacingAndGlyphs">CmoCh15G17498</text><text x="465.80" y="67.57" textLength="25.2" lengthAdjust="spacingAndGlyphs">CmoCh17G00215</text><text x="465.80" y="70.63" textLength="25.7" lengthAdjust="spacingAndGlyphs">CmoCh19G14054</text><text x="465.80" y="73.70" textLength="25.7" lengthAdjust="spacingAndGlyphs">CmoCh11G19250</text><text x="465.80" y="76.77" textLength="25.8" lengthAdjust="spacingAndGlyphs">CmoCh03G16244</text><text x="465.80" y="79.83" textLength="25.1" lengthAdjust="spacingAndGlyphs">CmoCh08G09631</text><text x="465.80" y="82.90" textLength="25.1" lengthAdjust="spacingAndGlyphs">CmoCh14G05214</text><text x="465.80" y="85.97" textLength="25.5" lengthAdjust="spacingAndGlyphs">CmoCh13G08955</text><text x="465.80" y="89.03" textLength="23.8" lengthAdjust="spacingAndGlyphs">CmoCh03G19939</text><text x="465.80" y="92.10" textLength="25.5" lengthAdjust="spacingAndGlyphs">CmoCh09G13572</text><text x="465.80" y="95.17" textLength="24.1" lengthAdjust="spacingAndGlyphs">CmoCh18G10050</text><text x="465.80" y="98.23" textLength="24.1" lengthAdjust="spacingAndGlyphs">CmoCh09G15977</text><text x="465.80" y="101.30" textLength="24.3" lengthAdjust="spacingAndGlyphs">CmoCh17G01587</text><text x="465.80" y="104.37" textLength="24.6" lengthAdjust="spacingAndGlyphs">CmoCh04G19453</text><text x="465.80" y="107.43" textLength="25.1" lengthAdjust="spacingAndGlyphs">CmoCh12G02295</text><text x="465.80" y="110.50" textLength="24.8" lengthAdjust="spacingAndGlyphs">CmoCh01G05478</text><text x="465.80" y="113.57" textLength="24.6" lengthAdjust="spacingAndGlyphs">CmoCh06G03149</text><text x="465.80" y="116.63" textLength="24.4" lengthAdjust="spacingAndGlyphs">CmoCh09G19924</text><text x="465.80" y="119.70" textLength="24.3" lengthAdjust="spacingAndGlyphs">CmoCh17G06906</text><text x="465.80" y="122.77" textLength="23.9" lengthAdjust="spacingAndGlyphs">CmoCh11G08916</text><text x="465.80" y="125.83" textLength="24.7" lengthAdjust="spacingAndGlyphs">CmoCh17G12165</text><text x="465.80" y="128.90" textLength="24.1" lengthAdjust="spacingAndGlyphs">CmoCh18G01729</text><text x="465.80" y="131.97" textLength="24.5" lengthAdjust="spacingAndGlyphs">CmoCh18G08939</text><text x="465.80" y="135.03" textLength="24.9" lengthAdjust="spacingAndGlyphs">CmoCh08G12963</text><text x="465.80" y="138.10" textLength="25.4" lengthAdjust="spacingAndGlyphs">CmoCh06G15947</text><text x="465.80" y="141.17" textLength="25.2" lengthAdjust="spacingAndGlyphs">CmoCh20G10901</text><text x="465.80" y="144.23" textLength="25.5" lengthAdjust="spacingAndGlyphs">CmoCh09G08102</text><text x="465.80" y="147.30" textLength="24.4" lengthAdjust="spacingAndGlyphs">CmoCh01G13292</text><text x="465.80" y="150.37" textLength="25.4" lengthAdjust="spacingAndGlyphs">CmoCh14G08240</text><text x="465.80" y="153.43" textLength="25.1" lengthAdjust="spacingAndGlyphs">CmoCh07G02476</text><text x="465.80" y="156.50" textLength="24.7" lengthAdjust="spacingAndGlyphs">CmoCh06G19077</text><text x="465.80" y="159.57" textLength="25.7" lengthAdjust="spacingAndGlyphs">CmoCh05G19965</text><text x="465.80" y="162.63" textLength="24.1" lengthAdjust="spacingAndGlyphs">CmoCh15G17355</text><text x="465.80" y="165.70" textLength="24.5" lengthAdjust="spacingAndGlyphs">CmoCh05G14540</text><text x="465.80" y="168.77" textLength="24.0" lengthAdjust="spacingAndGlyphs">CmoCh13G07980</text><text x="465.80" y="171.83" textLength="23.9" lengthAdjust="spacingAndGlyphs">CmoCh07G10110</text><text x="465.80" y="174.90" textLength="24.4" lengthAdjust="spacingAndGlyphs">CmoCh08G13109</text><text x="465.80" y="177.97" textLength="23.9" lengthAdjust="spacingAndGlyphs">CmoCh04G06219</text><text x="465.80" y="181.03" textLength="25.6" lengthAdjust="spacingAndGlyphs">CmoCh20G00862</text><text x="465.80" y="184.10" textLength="24.8" lengthAdjust="spacingAndGlyphs">CmoCh07G01237</text><text x="465.80" y="187.17" textLength="24.5" lengthAdjust="spacingAndGlyphs">CmoCh17G14592</text><text x="465.80" y="190.23" textLength="25.0" lengthAdjust="spacingAndGlyphs">CmoCh09G03968</text><text x="465.80" y="193.30" textLength="24.2" lengthAdjust="spacingAndGlyphs">CmoCh06G03220</text><text x="465.80" y="196.37" textLength="24.7" lengthAdjust="spacingAndGlyphs">CmoCh08G16320</text><text x="465.80" y="199.43" textLength="24.3" lengthAdjust="spacingAndGlyphs">CmoCh06G07692</text><text x="465.80" y="202.50" textLength="24.9" lengthAdjust="spacingAndGlyphs">CmoCh10G15257</text><text x="465.80" y="205.57" textLength="24.7" lengthAdjust="spacingAndGlyphs">CmoCh13G07043</text></g>
<text x="406.2" y="14.0" font-size="12" text-anchor="middle" fill="#000" stroke="#000" stroke-width="0.08">III</text>
<text transform="translate(362.50,213.10) rotate(-45)" text-anchor="end" font-size="7.7" font-weight="bold" fill="#000" stroke="#000" stroke-width="0.12">Stems</text>
<text transform="translate(393.60,213.10) rotate(-45)" text-anchor="end" font-size="7.7" font-weight="bold" fill="#000" stroke="#000" stroke-width="0.12">Roots</text>
<text transform="translate(425.00,213.10) rotate(-45)" text-anchor="end" font-size="7.7" font-weight="bold" fill="#000" stroke="#000" stroke-width="0.12">Fruits</text>
<text transform="translate(455.80,213.10) rotate(-45)" text-anchor="end" font-size="7.7" font-weight="bold" fill="#000" stroke="#000" stroke-width="0.12">Leaves</text>
<defs><linearGradient id="cb" x1="0" y1="1" x2="0" y2="0"><stop offset="0.0000" stop-color="#0848ac"/><stop offset="0.1250" stop-color="#507db9"/><stop offset="0.2500" stop-color="#96aab6"/><stop offset="0.3750" stop-color="#d7dab2"/><stop offset="0.4375" stop-color="#f8eeb4"/><stop offset="0.5000" stop-color="#fcdaa0"/><stop offset="0.6250" stop-color="#f9b080"/><stop offset="0.7500" stop-color="#f9825c"/><stop offset="0.8750" stop-color="#f5503a"/><stop offset="1.0000" stop-color="#ee1c1e"/></linearGradient></defs>
<rect x="521.3" y="10" width="10.2" height="80" fill="url(#cb)" shape-rendering="auto"/>
<path d="M531.5 10H533.3" stroke="#000" stroke-width="0.7" shape-rendering="auto"/><text x="533.7" y="12.45" font-size="6.9" font-weight="bold" fill="#000">4.00</text><path d="M531.5 20H533.3" stroke="#000" stroke-width="0.7" shape-rendering="auto"/><text x="533.7" y="22.45" font-size="6.9" font-weight="bold" fill="#000">3.50</text><path d="M531.5 30H533.3" stroke="#000" stroke-width="0.7" shape-rendering="auto"/><text x="533.7" y="32.45" font-size="6.9" font-weight="bold" fill="#000">3.00</text><path d="M531.5 40H533.3" stroke="#000" stroke-width="0.7" shape-rendering="auto"/><text x="533.7" y="42.45" font-size="6.9" font-weight="bold" fill="#000">2.50</text><path d="M531.5 50H533.3" stroke="#000" stroke-width="0.7" shape-rendering="auto"/><text x="533.7" y="52.45" font-size="6.9" font-weight="bold" fill="#000">2.00</text><path d="M531.5 60H533.3" stroke="#000" stroke-width="0.7" shape-rendering="auto"/><text x="533.7" y="62.45" font-size="6.9" font-weight="bold" fill="#000">1.50</text><path d="M531.5 70H533.3" stroke="#000" stroke-width="0.7" shape-rendering="auto"/><text x="533.7" y="72.45" font-size="6.9" font-weight="bold" fill="#000">1.00</text><path d="M531.5 80H533.3" stroke="#000" stroke-width="0.7" shape-rendering="auto"/><text x="533.7" y="82.45" font-size="6.9" font-weight="bold" fill="#000">0.50</text><path d="M531.5 90H533.3" stroke="#000" stroke-width="0.7" shape-rendering="auto"/><text x="533.7" y="92.45" font-size="6.9" font-weight="bold" fill="#000">0.00</text>
</svg></body></html>
